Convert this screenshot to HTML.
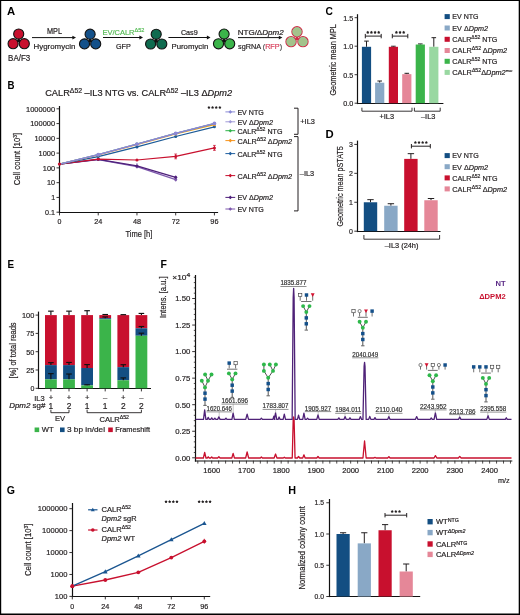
<!DOCTYPE html>
<html><head><meta charset="utf-8"><style>
html,body{margin:0;padding:0;background:#fff;}
svg{display:block;will-change:transform;}
text{font-family:"Liberation Sans", sans-serif;}
</style></head><body>
<svg width="520" height="615" viewBox="0 0 520 615" font-family='"Liberation Sans", sans-serif' fill="#231f20">
<rect x="0" y="0" width="520" height="615" fill="#fff"/>
<text x="7.00" y="14.60" font-size="11.3" font-weight="bold" fill="#000">A</text>
<polygon points="15.90,42.37 21.50,42.37 18.70,37.57" fill="#111"/>
<circle cx="18.70" cy="34.00" r="5.05" fill="#c8102e" stroke="#111" stroke-width="1.1"/>
<circle cx="13.10" cy="43.70" r="5.05" fill="#c8102e" stroke="#111" stroke-width="1.1"/>
<circle cx="24.30" cy="43.70" r="5.05" fill="#c8102e" stroke="#111" stroke-width="1.1"/>
<polygon points="87.30,42.57 92.90,42.57 90.10,37.77" fill="#111"/>
<circle cx="90.10" cy="34.20" r="5.05" fill="#14518a" stroke="#111" stroke-width="1.1"/>
<circle cx="84.50" cy="43.90" r="5.05" fill="#14518a" stroke="#111" stroke-width="1.1"/>
<circle cx="95.70" cy="43.90" r="5.05" fill="#14518a" stroke="#111" stroke-width="1.1"/>
<polygon points="153.40,42.67 159.00,42.67 156.20,37.87" fill="#111"/>
<circle cx="156.20" cy="34.30" r="5.05" fill="#0f6b4f" stroke="#111" stroke-width="1.1"/>
<circle cx="150.60" cy="44.00" r="5.05" fill="#0f6b4f" stroke="#111" stroke-width="1.1"/>
<circle cx="161.80" cy="44.00" r="5.05" fill="#0f6b4f" stroke="#111" stroke-width="1.1"/>
<polygon points="221.30,42.47 226.90,42.47 224.10,37.67" fill="#111"/>
<circle cx="224.10" cy="34.10" r="5.05" fill="#3bb44a" stroke="#111" stroke-width="1.1"/>
<circle cx="218.50" cy="43.80" r="5.05" fill="#3bb44a" stroke="#111" stroke-width="1.1"/>
<circle cx="229.70" cy="43.80" r="5.05" fill="#3bb44a" stroke="#111" stroke-width="1.1"/>
<polygon points="294.20,40.27 299.80,40.27 297.00,35.47" fill="#cf2e48"/>
<circle cx="297.00" cy="31.80" r="5.15" fill="#a4c28b" stroke="#cf2e48" stroke-width="1.1"/>
<circle cx="297.00" cy="31.80" r="4.15" fill="none" stroke="#8fd19a" stroke-width="0.7"/>
<circle cx="291.05" cy="41.65" r="5.15" fill="#a4c28b" stroke="#cf2e48" stroke-width="1.1"/>
<circle cx="291.05" cy="41.65" r="4.15" fill="none" stroke="#8fd19a" stroke-width="0.7"/>
<circle cx="302.95" cy="41.65" r="5.15" fill="#a4c28b" stroke="#cf2e48" stroke-width="1.1"/>
<circle cx="302.95" cy="41.65" r="4.15" fill="none" stroke="#8fd19a" stroke-width="0.7"/>
<line x1="32.00" y1="37.60" x2="73.00" y2="37.60" stroke="#111" stroke-width="1.0"/>
<polygon points="72.40,35.70 76.00,37.60 72.40,39.50" fill="#111"/>
<line x1="103.00" y1="37.50" x2="140.00" y2="37.50" stroke="#111" stroke-width="1.0"/>
<polygon points="139.40,35.60 143.00,37.50 139.40,39.40" fill="#111"/>
<line x1="168.40" y1="37.50" x2="207.50" y2="37.50" stroke="#111" stroke-width="1.0"/>
<polygon points="206.90,35.60 210.50,37.50 206.90,39.40" fill="#111"/>
<line x1="238.00" y1="37.60" x2="279.40" y2="37.60" stroke="#111" stroke-width="1.0"/>
<polygon points="278.80,35.70 282.40,37.60 278.80,39.50" fill="#111"/>
<text x="8.10" y="61.00" font-size="8.4" stroke="#231f20" stroke-width="0.2" textLength="22.10" lengthAdjust="spacingAndGlyphs">BA/F3</text>
<text x="47.00" y="34.40" font-size="8.2" stroke="#231f20" stroke-width="0.2" textLength="15.00" lengthAdjust="spacingAndGlyphs">MPL</text>
<text x="33.50" y="48.80" font-size="8.0" stroke="#231f20" stroke-width="0.2" textLength="41.80" lengthAdjust="spacingAndGlyphs">Hygromycin</text>
<text x="102.40" y="34.50" font-size="7.8" fill="#55bb55" stroke="#55bb55" stroke-width="0.2" textLength="42.00" lengthAdjust="spacingAndGlyphs">EV/CALR<tspan font-size="5.8" baseline-shift="3.0">&#916;52</tspan></text>
<text x="115.90" y="48.90" font-size="8.0" stroke="#231f20" stroke-width="0.2" textLength="14.80" lengthAdjust="spacingAndGlyphs">GFP</text>
<text x="180.90" y="34.50" font-size="8.0" stroke="#231f20" stroke-width="0.2" textLength="16.80" lengthAdjust="spacingAndGlyphs">Cas9</text>
<text x="171.50" y="48.90" font-size="8.0" stroke="#231f20" stroke-width="0.2" textLength="36.80" lengthAdjust="spacingAndGlyphs">Puromycin</text>
<text x="237.70" y="34.50" font-size="7.8" stroke="#231f20" stroke-width="0.2" textLength="46.00" lengthAdjust="spacingAndGlyphs">NTG/&#916;<tspan font-style="italic">Dpm2</tspan></text>
<text x="238.10" y="48.90" font-size="7.8" stroke="#231f20" stroke-width="0.2" textLength="44.00" lengthAdjust="spacingAndGlyphs">sgRNA <tspan fill="#4d4d4f" stroke="#4d4d4f">(</tspan><tspan fill="#d8405c" stroke="#d8405c">RFP</tspan><tspan fill="#4d4d4f" stroke="#4d4d4f">)</tspan></text>
<text x="7.40" y="89.30" font-size="11.3" font-weight="bold" fill="#000" textLength="7.00" lengthAdjust="spacingAndGlyphs">B</text>
<text x="45.20" y="95.90" font-size="8.6" stroke="#231f20" stroke-width="0.2" textLength="187.00" lengthAdjust="spacingAndGlyphs">CALR<tspan font-size="6.4" baseline-shift="3.3">&#916;52</tspan> &#8211;IL3 NTG vs. CALR<tspan font-size="6.4" baseline-shift="3.3">&#916;52</tspan> &#8211;IL3 &#916;<tspan font-style="italic">Dpm2</tspan></text>
<line x1="59.50" y1="106.00" x2="59.50" y2="213.10" stroke="#111" stroke-width="1.2"/>
<line x1="58.90" y1="212.50" x2="218.10" y2="212.50" stroke="#111" stroke-width="1.2"/>
<line x1="56.50" y1="108.81" x2="59.50" y2="108.81" stroke="#231f20" stroke-width="0.9"/>
<text x="55.10" y="111.61" font-size="8.0" text-anchor="end" stroke="#231f20" stroke-width="0.2" textLength="29.10" lengthAdjust="spacingAndGlyphs">1000000</text>
<line x1="56.50" y1="123.58" x2="59.50" y2="123.58" stroke="#231f20" stroke-width="0.9"/>
<text x="55.10" y="126.38" font-size="8.0" text-anchor="end" stroke="#231f20" stroke-width="0.2" textLength="24.90" lengthAdjust="spacingAndGlyphs">100000</text>
<line x1="56.50" y1="138.35" x2="59.50" y2="138.35" stroke="#231f20" stroke-width="0.9"/>
<text x="55.10" y="141.15" font-size="8.0" text-anchor="end" stroke="#231f20" stroke-width="0.2" textLength="20.70" lengthAdjust="spacingAndGlyphs">10000</text>
<line x1="56.50" y1="153.12" x2="59.50" y2="153.12" stroke="#231f20" stroke-width="0.9"/>
<text x="55.10" y="155.92" font-size="8.0" text-anchor="end" stroke="#231f20" stroke-width="0.2" textLength="16.50" lengthAdjust="spacingAndGlyphs">1000</text>
<line x1="56.50" y1="167.89" x2="59.50" y2="167.89" stroke="#231f20" stroke-width="0.9"/>
<text x="55.10" y="170.69" font-size="8.0" text-anchor="end" stroke="#231f20" stroke-width="0.2" textLength="12.30" lengthAdjust="spacingAndGlyphs">100</text>
<line x1="56.50" y1="182.66" x2="59.50" y2="182.66" stroke="#231f20" stroke-width="0.9"/>
<text x="55.10" y="185.46" font-size="8.0" text-anchor="end" stroke="#231f20" stroke-width="0.2" textLength="8.10" lengthAdjust="spacingAndGlyphs">10</text>
<line x1="56.50" y1="197.43" x2="59.50" y2="197.43" stroke="#231f20" stroke-width="0.9"/>
<text x="55.10" y="200.23" font-size="8.0" text-anchor="end" stroke="#231f20" stroke-width="0.2" textLength="3.90" lengthAdjust="spacingAndGlyphs">1</text>
<line x1="56.50" y1="212.20" x2="59.50" y2="212.20" stroke="#231f20" stroke-width="0.9"/>
<text x="55.10" y="215.00" font-size="8.0" text-anchor="end" stroke="#231f20" stroke-width="0.2" textLength="10.00" lengthAdjust="spacingAndGlyphs">0.1</text>
<line x1="59.50" y1="212.40" x2="59.50" y2="215.40" stroke="#231f20" stroke-width="0.9"/>
<text x="59.50" y="224.00" font-size="8.0" text-anchor="middle" stroke="#231f20" stroke-width="0.2" textLength="3.90" lengthAdjust="spacingAndGlyphs">0</text>
<line x1="98.23" y1="212.40" x2="98.23" y2="215.40" stroke="#231f20" stroke-width="0.9"/>
<text x="98.23" y="224.00" font-size="8.0" text-anchor="middle" stroke="#231f20" stroke-width="0.2" textLength="8.10" lengthAdjust="spacingAndGlyphs">24</text>
<line x1="136.96" y1="212.40" x2="136.96" y2="215.40" stroke="#231f20" stroke-width="0.9"/>
<text x="136.96" y="224.00" font-size="8.0" text-anchor="middle" stroke="#231f20" stroke-width="0.2" textLength="8.10" lengthAdjust="spacingAndGlyphs">48</text>
<line x1="175.69" y1="212.40" x2="175.69" y2="215.40" stroke="#231f20" stroke-width="0.9"/>
<text x="175.69" y="224.00" font-size="8.0" text-anchor="middle" stroke="#231f20" stroke-width="0.2" textLength="8.10" lengthAdjust="spacingAndGlyphs">72</text>
<line x1="214.42" y1="212.40" x2="214.42" y2="215.40" stroke="#231f20" stroke-width="0.9"/>
<text x="214.42" y="224.00" font-size="8.0" text-anchor="middle" stroke="#231f20" stroke-width="0.2" textLength="8.10" lengthAdjust="spacingAndGlyphs">96</text>
<text x="125.40" y="237.30" font-size="9.6" stroke="#231f20" stroke-width="0.2" textLength="27.00" lengthAdjust="spacingAndGlyphs">Time [h]</text>
<text x="19.70" y="185.30" font-size="9.6" stroke="#231f20" stroke-width="0.2" textLength="52.50" lengthAdjust="spacingAndGlyphs" transform="rotate(-90 19.70 185.30)">Cell count [10<tspan font-size="6.2" baseline-shift="3.4">3</tspan>]</text>
<line x1="175.69" y1="154.00" x2="175.69" y2="158.80" stroke="#c8102e" stroke-width="0.9"/>
<line x1="174.29" y1="154.00" x2="177.09" y2="154.00" stroke="#c8102e" stroke-width="0.7"/>
<line x1="174.29" y1="158.80" x2="177.09" y2="158.80" stroke="#c8102e" stroke-width="0.7"/>
<line x1="214.42" y1="145.40" x2="214.42" y2="150.40" stroke="#c8102e" stroke-width="0.9"/>
<line x1="213.02" y1="145.40" x2="215.82" y2="145.40" stroke="#c8102e" stroke-width="0.7"/>
<line x1="213.02" y1="150.40" x2="215.82" y2="150.40" stroke="#c8102e" stroke-width="0.7"/>
<line x1="136.96" y1="163.20" x2="136.96" y2="168.50" stroke="#7b5aa6" stroke-width="0.9"/>
<line x1="175.69" y1="175.50" x2="175.69" y2="181.50" stroke="#7b5aa6" stroke-width="0.9"/>
<polyline points="59.50,164.10 98.23,159.60 136.96,166.60 175.69,179.60" fill="none" stroke="#7d58ad" stroke-width="1.2" stroke-linejoin="round"/>
<circle cx="98.23" cy="159.60" r="1.50" fill="#7d58ad" stroke="none" stroke-width="0"/>
<circle cx="136.96" cy="166.60" r="1.50" fill="#7d58ad" stroke="none" stroke-width="0"/>
<circle cx="175.69" cy="179.60" r="1.50" fill="#7d58ad" stroke="none" stroke-width="0"/>
<polyline points="59.50,164.10 98.23,159.30 136.96,165.90 175.69,177.30" fill="none" stroke="#4e1f7a" stroke-width="1.3" stroke-linejoin="round"/>
<circle cx="98.23" cy="159.30" r="1.50" fill="#4e1f7a" stroke="none" stroke-width="0"/>
<circle cx="136.96" cy="165.90" r="1.50" fill="#4e1f7a" stroke="none" stroke-width="0"/>
<circle cx="175.69" cy="177.30" r="1.50" fill="#4e1f7a" stroke="none" stroke-width="0"/>
<polyline points="59.50,164.10 98.23,159.10 136.96,160.00 175.69,156.40 214.42,147.90" fill="none" stroke="#c8102e" stroke-width="1.2" stroke-linejoin="round"/>
<circle cx="98.23" cy="159.10" r="1.50" fill="#c8102e" stroke="none" stroke-width="0"/>
<circle cx="136.96" cy="160.00" r="1.50" fill="#c8102e" stroke="none" stroke-width="0"/>
<circle cx="175.69" cy="156.40" r="1.50" fill="#c8102e" stroke="none" stroke-width="0"/>
<circle cx="214.42" cy="147.90" r="1.50" fill="#c8102e" stroke="none" stroke-width="0"/>
<polyline points="59.50,164.10 98.23,156.60 136.96,146.90 175.69,136.50 214.42,126.80" fill="none" stroke="#1c5b97" stroke-width="1.2" stroke-linejoin="round"/>
<circle cx="98.23" cy="156.60" r="1.50" fill="#1c5b97" stroke="none" stroke-width="0"/>
<circle cx="136.96" cy="146.90" r="1.50" fill="#1c5b97" stroke="none" stroke-width="0"/>
<circle cx="175.69" cy="136.50" r="1.50" fill="#1c5b97" stroke="none" stroke-width="0"/>
<circle cx="214.42" cy="126.80" r="1.50" fill="#1c5b97" stroke="none" stroke-width="0"/>
<polyline points="59.50,164.10 98.23,155.00 136.96,144.60 175.69,134.00 214.42,124.70" fill="none" stroke="#f7a11a" stroke-width="1.2" stroke-linejoin="round"/>
<circle cx="98.23" cy="155.00" r="1.50" fill="#f7a11a" stroke="none" stroke-width="0"/>
<circle cx="136.96" cy="144.60" r="1.50" fill="#f7a11a" stroke="none" stroke-width="0"/>
<circle cx="175.69" cy="134.00" r="1.50" fill="#f7a11a" stroke="none" stroke-width="0"/>
<circle cx="214.42" cy="124.70" r="1.50" fill="#f7a11a" stroke="none" stroke-width="0"/>
<polyline points="59.50,164.10 98.23,154.50 136.96,144.00 175.69,133.40 214.42,123.60" fill="none" stroke="#3bb44a" stroke-width="1.2" stroke-linejoin="round"/>
<circle cx="98.23" cy="154.50" r="1.50" fill="#3bb44a" stroke="none" stroke-width="0"/>
<circle cx="136.96" cy="144.00" r="1.50" fill="#3bb44a" stroke="none" stroke-width="0"/>
<circle cx="175.69" cy="133.40" r="1.50" fill="#3bb44a" stroke="none" stroke-width="0"/>
<circle cx="214.42" cy="123.60" r="1.50" fill="#3bb44a" stroke="none" stroke-width="0"/>
<polyline points="59.50,164.10 98.23,154.70 136.96,144.20 175.69,133.40 214.42,123.50" fill="none" stroke="#9a90d8" stroke-width="1.2" stroke-linejoin="round"/>
<circle cx="98.23" cy="154.70" r="1.50" fill="#9a90d8" stroke="none" stroke-width="0"/>
<circle cx="136.96" cy="144.20" r="1.50" fill="#9a90d8" stroke="none" stroke-width="0"/>
<circle cx="175.69" cy="133.40" r="1.50" fill="#9a90d8" stroke="none" stroke-width="0"/>
<circle cx="214.42" cy="123.50" r="1.50" fill="#9a90d8" stroke="none" stroke-width="0"/>
<polyline points="59.50,164.10 98.23,154.60 136.96,144.10 175.69,133.30 214.42,123.40" fill="none" stroke="#8c87d4" stroke-width="1.2" stroke-linejoin="round"/>
<circle cx="98.23" cy="154.60" r="1.90" fill="#8c87d4" stroke="none" stroke-width="0"/>
<circle cx="136.96" cy="144.10" r="1.90" fill="#8c87d4" stroke="none" stroke-width="0"/>
<circle cx="175.69" cy="133.30" r="1.90" fill="#8c87d4" stroke="none" stroke-width="0"/>
<circle cx="214.42" cy="123.40" r="1.90" fill="#8c87d4" stroke="none" stroke-width="0"/>
<circle cx="59.50" cy="164.10" r="1.70" fill="#c8102e" stroke="none" stroke-width="0"/>
<path d="M208.93,105.88 L209.50,106.71 L210.47,107.00 L209.85,107.80 L209.88,108.81 L208.93,108.47 L207.97,108.81 L208.00,107.80 L207.38,107.00 L208.35,106.71Z" fill="#231f20"/>
<path d="M212.58,105.88 L213.15,106.71 L214.12,107.00 L213.50,107.80 L213.53,108.81 L212.58,108.47 L211.62,108.81 L211.65,107.80 L211.03,107.00 L212.00,106.71Z" fill="#231f20"/>
<path d="M216.23,105.88 L216.80,106.71 L217.77,107.00 L217.15,107.80 L217.18,108.81 L216.23,108.47 L215.27,108.81 L215.30,107.80 L214.68,107.00 L215.65,106.71Z" fill="#231f20"/>
<path d="M219.88,105.88 L220.45,106.71 L221.42,107.00 L220.80,107.80 L220.83,108.81 L219.88,108.47 L218.92,108.81 L218.95,107.80 L218.33,107.00 L219.30,106.71Z" fill="#231f20"/>
<line x1="225.40" y1="111.90" x2="235.20" y2="111.90" stroke="#8a8ad6" stroke-width="1.0"/>
<polygon points="230.3,110.10 232.1,111.90 230.3,113.70 228.5,111.90" fill="#8a8ad6"/>
<text x="237.40" y="114.80" font-size="7.4" stroke="#231f20" stroke-width="0.2" textLength="26.30" lengthAdjust="spacingAndGlyphs">EV NTG</text>
<line x1="225.40" y1="121.80" x2="235.20" y2="121.80" stroke="#a09ad8" stroke-width="1.0"/>
<polygon points="230.3,120.00 232.1,121.80 230.3,123.60 228.5,121.80" fill="#a09ad8"/>
<text x="237.40" y="124.70" font-size="7.4" stroke="#231f20" stroke-width="0.2" textLength="35.50" lengthAdjust="spacingAndGlyphs">EV &#916;<tspan font-style="italic">Dpm2</tspan></text>
<line x1="225.40" y1="130.70" x2="235.20" y2="130.70" stroke="#2fb34a" stroke-width="1.0"/>
<polygon points="230.3,128.90 232.1,130.70 230.3,132.50 228.5,130.70" fill="#2fb34a"/>
<text x="237.40" y="133.60" font-size="7.4" stroke="#231f20" stroke-width="0.2" textLength="45.00" lengthAdjust="spacingAndGlyphs">CALR<tspan font-size="5.4" baseline-shift="3.0">&#916;52</tspan> NTG</text>
<line x1="225.40" y1="140.60" x2="235.20" y2="140.60" stroke="#f7941d" stroke-width="1.0"/>
<polygon points="230.3,138.80 232.1,140.60 230.3,142.40 228.5,140.60" fill="#f7941d"/>
<text x="237.40" y="143.50" font-size="7.4" stroke="#231f20" stroke-width="0.2" textLength="54.70" lengthAdjust="spacingAndGlyphs">CALR<tspan font-size="5.4" baseline-shift="3.0">&#916;52</tspan> &#916;<tspan font-style="italic">Dpm2</tspan></text>
<line x1="225.40" y1="153.60" x2="235.20" y2="153.60" stroke="#1f5fa0" stroke-width="1.0"/>
<polygon points="230.3,151.80 232.1,153.60 230.3,155.40 228.5,153.60" fill="#1f5fa0"/>
<text x="237.40" y="156.50" font-size="7.4" stroke="#231f20" stroke-width="0.2" textLength="45.00" lengthAdjust="spacingAndGlyphs">CALR<tspan font-size="5.4" baseline-shift="3.0">&#916;52</tspan> NTG</text>
<line x1="225.40" y1="175.60" x2="235.20" y2="175.60" stroke="#c8102e" stroke-width="1.0"/>
<polygon points="230.3,173.80 232.1,175.60 230.3,177.40 228.5,175.60" fill="#c8102e"/>
<text x="237.40" y="178.50" font-size="7.4" stroke="#231f20" stroke-width="0.2" textLength="54.70" lengthAdjust="spacingAndGlyphs">CALR<tspan font-size="5.4" baseline-shift="3.0">&#916;52</tspan> &#916;<tspan font-style="italic">Dpm2</tspan></text>
<line x1="225.40" y1="197.40" x2="235.20" y2="197.40" stroke="#4e1f7a" stroke-width="1.0"/>
<polygon points="230.3,195.60 232.1,197.40 230.3,199.20 228.5,197.40" fill="#4e1f7a"/>
<text x="237.40" y="200.30" font-size="7.4" stroke="#231f20" stroke-width="0.2" textLength="35.50" lengthAdjust="spacingAndGlyphs">EV &#916;<tspan font-style="italic">Dpm2</tspan></text>
<line x1="225.40" y1="209.00" x2="235.20" y2="209.00" stroke="#7d58ad" stroke-width="1.0"/>
<polygon points="230.3,207.20 232.1,209.00 230.3,210.80 228.5,209.00" fill="#7d58ad"/>
<text x="237.40" y="211.90" font-size="7.4" stroke="#231f20" stroke-width="0.2" textLength="26.30" lengthAdjust="spacingAndGlyphs">EV NTG</text>
<polyline points="294.00,108.20 298.00,108.20 298.00,134.30 294.00,134.30" fill="none" stroke="#231f20" stroke-width="1.0" stroke-linejoin="round"/>
<polyline points="294.00,136.60 298.00,136.60 298.00,210.90 294.00,210.90" fill="none" stroke="#231f20" stroke-width="1.0" stroke-linejoin="round"/>
<text x="300.30" y="124.20" font-size="7.4" stroke="#231f20" stroke-width="0.2">+IL3</text>
<text x="299.80" y="175.70" font-size="7.4" stroke="#231f20" stroke-width="0.2">&#8211;IL3</text>
<text x="325.60" y="14.80" font-size="11.3" font-weight="bold" fill="#000" textLength="7.40" lengthAdjust="spacingAndGlyphs">C</text>
<line x1="357.50" y1="14.20" x2="357.50" y2="104.10" stroke="#111" stroke-width="1.2"/>
<line x1="356.90" y1="103.50" x2="443.40" y2="103.50" stroke="#111" stroke-width="1.2"/>
<line x1="354.60" y1="17.70" x2="357.60" y2="17.70" stroke="#231f20" stroke-width="0.9"/>
<text x="353.20" y="20.50" font-size="8.0" text-anchor="end" stroke="#231f20" stroke-width="0.2" textLength="10.00" lengthAdjust="spacingAndGlyphs">1.5</text>
<line x1="354.60" y1="46.20" x2="357.60" y2="46.20" stroke="#231f20" stroke-width="0.9"/>
<text x="353.20" y="49.00" font-size="8.0" text-anchor="end" stroke="#231f20" stroke-width="0.2" textLength="10.00" lengthAdjust="spacingAndGlyphs">1.0</text>
<line x1="354.60" y1="74.70" x2="357.60" y2="74.70" stroke="#231f20" stroke-width="0.9"/>
<text x="353.20" y="77.50" font-size="8.0" text-anchor="end" stroke="#231f20" stroke-width="0.2" textLength="10.00" lengthAdjust="spacingAndGlyphs">0.5</text>
<line x1="354.60" y1="103.20" x2="357.60" y2="103.20" stroke="#231f20" stroke-width="0.9"/>
<text x="353.20" y="106.00" font-size="8.0" text-anchor="end" stroke="#231f20" stroke-width="0.2" textLength="10.00" lengthAdjust="spacingAndGlyphs">0.0</text>
<text x="336.40" y="95.60" font-size="9.2" stroke="#231f20" stroke-width="0.2" textLength="71.50" lengthAdjust="spacingAndGlyphs" transform="rotate(-90 336.40 95.60)">Geometric mean MPL</text>
<line x1="366.50" y1="46.80" x2="366.50" y2="41.10" stroke="#231f20" stroke-width="1.0"/>
<line x1="364.20" y1="41.10" x2="368.80" y2="41.10" stroke="#231f20" stroke-width="1.0"/>
<rect x="361.90" y="46.80" width="9.20" height="56.40" fill="#134e82"/>
<line x1="379.70" y1="82.71" x2="379.70" y2="81.00" stroke="#231f20" stroke-width="1.0"/>
<line x1="377.40" y1="81.00" x2="382.00" y2="81.00" stroke="#231f20" stroke-width="1.0"/>
<rect x="375.10" y="82.71" width="9.20" height="20.49" fill="#89a8c6"/>
<line x1="393.40" y1="46.80" x2="393.40" y2="46.23" stroke="#231f20" stroke-width="1.0"/>
<line x1="391.10" y1="46.23" x2="395.70" y2="46.23" stroke="#231f20" stroke-width="1.0"/>
<rect x="388.80" y="46.80" width="9.20" height="56.40" fill="#c8102e"/>
<line x1="406.80" y1="74.16" x2="406.80" y2="73.30" stroke="#231f20" stroke-width="1.0"/>
<line x1="404.50" y1="73.30" x2="409.10" y2="73.30" stroke="#231f20" stroke-width="1.0"/>
<rect x="402.20" y="74.16" width="9.20" height="29.04" fill="#e58798"/>
<line x1="420.30" y1="44.52" x2="420.30" y2="43.95" stroke="#231f20" stroke-width="1.0"/>
<line x1="418.00" y1="43.95" x2="422.60" y2="43.95" stroke="#231f20" stroke-width="1.0"/>
<rect x="415.70" y="44.52" width="9.20" height="58.68" fill="#3bb44a"/>
<line x1="433.80" y1="46.80" x2="433.80" y2="37.68" stroke="#231f20" stroke-width="1.0"/>
<line x1="431.50" y1="37.68" x2="436.10" y2="37.68" stroke="#231f20" stroke-width="1.0"/>
<rect x="429.20" y="46.80" width="9.20" height="56.40" fill="#99d8a1"/>
<line x1="365.30" y1="36.10" x2="381.20" y2="36.10" stroke="#231f20" stroke-width="1.0"/>
<line x1="365.30" y1="33.90" x2="365.30" y2="38.30" stroke="#231f20" stroke-width="1.0"/>
<line x1="381.20" y1="33.90" x2="381.20" y2="38.30" stroke="#231f20" stroke-width="1.0"/>
<path d="M367.77,30.77 L368.35,31.61 L369.32,31.90 L368.70,32.70 L368.73,33.71 L367.77,33.38 L366.82,33.71 L366.85,32.70 L366.23,31.90 L367.20,31.61Z" fill="#231f20"/>
<path d="M371.42,30.77 L372.00,31.61 L372.97,31.90 L372.35,32.70 L372.38,33.71 L371.42,33.38 L370.47,33.71 L370.50,32.70 L369.88,31.90 L370.85,31.61Z" fill="#231f20"/>
<path d="M375.07,30.77 L375.65,31.61 L376.62,31.90 L376.00,32.70 L376.03,33.71 L375.07,33.38 L374.12,33.71 L374.15,32.70 L373.53,31.90 L374.50,31.61Z" fill="#231f20"/>
<path d="M378.72,30.77 L379.30,31.61 L380.27,31.90 L379.65,32.70 L379.68,33.71 L378.72,33.38 L377.77,33.71 L377.80,32.70 L377.18,31.90 L378.15,31.61Z" fill="#231f20"/>
<line x1="392.30" y1="36.10" x2="407.80" y2="36.10" stroke="#231f20" stroke-width="1.0"/>
<line x1="392.30" y1="33.90" x2="392.30" y2="38.30" stroke="#231f20" stroke-width="1.0"/>
<line x1="407.80" y1="33.90" x2="407.80" y2="38.30" stroke="#231f20" stroke-width="1.0"/>
<path d="M396.40,30.77 L396.97,31.61 L397.95,31.90 L397.33,32.70 L397.36,33.71 L396.40,33.38 L395.44,33.71 L395.47,32.70 L394.85,31.90 L395.83,31.61Z" fill="#231f20"/>
<path d="M400.05,30.77 L400.62,31.61 L401.60,31.90 L400.98,32.70 L401.01,33.71 L400.05,33.38 L399.09,33.71 L399.12,32.70 L398.50,31.90 L399.48,31.61Z" fill="#231f20"/>
<path d="M403.70,30.77 L404.27,31.61 L405.25,31.90 L404.63,32.70 L404.66,33.71 L403.70,33.38 L402.74,33.71 L402.77,32.70 L402.15,31.90 L403.13,31.61Z" fill="#231f20"/>
<polyline points="361.90,107.70 361.90,111.20 412.00,111.20 412.00,107.70" fill="none" stroke="#231f20" stroke-width="0.9" stroke-linejoin="round"/>
<polyline points="414.40,107.70 414.40,111.20 440.20,111.20 440.20,107.70" fill="none" stroke="#231f20" stroke-width="0.9" stroke-linejoin="round"/>
<text x="386.80" y="119.20" font-size="7.4" text-anchor="middle" stroke="#231f20" stroke-width="0.2">+IL3</text>
<text x="428.20" y="119.20" font-size="7.4" text-anchor="middle" stroke="#231f20" stroke-width="0.2">&#8211;IL3</text>
<rect x="444.60" y="14.10" width="5.20" height="5.00" fill="#134e82"/>
<text x="452.30" y="19.40" font-size="7.6" stroke="#231f20" stroke-width="0.2" textLength="26.20" lengthAdjust="spacingAndGlyphs">EV NTG</text>
<rect x="444.60" y="25.50" width="5.20" height="5.00" fill="#89a8c6"/>
<text x="452.30" y="30.80" font-size="7.6" stroke="#231f20" stroke-width="0.2" textLength="35.60" lengthAdjust="spacingAndGlyphs">EV &#916;<tspan font-style="italic">Dpm2</tspan></text>
<rect x="444.60" y="36.80" width="5.20" height="5.00" fill="#c8102e"/>
<text x="452.30" y="42.10" font-size="7.6" stroke="#231f20" stroke-width="0.2" textLength="45.00" lengthAdjust="spacingAndGlyphs">CALR<tspan font-size="5.4" baseline-shift="3.0">&#916;52</tspan> NTG</text>
<rect x="444.60" y="48.00" width="5.20" height="5.00" fill="#e58798"/>
<text x="452.30" y="53.30" font-size="7.6" stroke="#231f20" stroke-width="0.2" textLength="54.80" lengthAdjust="spacingAndGlyphs">CALR<tspan font-size="5.4" baseline-shift="3.0">&#916;52</tspan> &#916;<tspan font-style="italic">Dpm2</tspan></text>
<rect x="444.60" y="58.80" width="5.20" height="5.00" fill="#3bb44a"/>
<text x="452.30" y="64.10" font-size="7.6" stroke="#231f20" stroke-width="0.2" textLength="45.00" lengthAdjust="spacingAndGlyphs">CALR<tspan font-size="5.4" baseline-shift="3.0">&#916;52</tspan> NTG</text>
<rect x="444.60" y="69.90" width="5.20" height="5.00" fill="#99d8a1"/>
<text x="452.30" y="75.20" font-size="7.6" stroke="#231f20" stroke-width="0.2" textLength="60.00" lengthAdjust="spacingAndGlyphs">CALR<tspan font-size="5.4" baseline-shift="3.0">&#916;52</tspan>&#916;<tspan font-style="italic">Dpm2</tspan><tspan font-size="4.4" font-style="italic" baseline-shift="3.0">esc</tspan></text>
<text x="325.60" y="138.30" font-size="11.3" font-weight="bold" fill="#000">D</text>
<line x1="357.50" y1="140.60" x2="357.50" y2="232.10" stroke="#111" stroke-width="1.2"/>
<line x1="356.90" y1="231.50" x2="440.50" y2="231.50" stroke="#111" stroke-width="1.2"/>
<line x1="354.30" y1="144.41" x2="357.60" y2="144.41" stroke="#231f20" stroke-width="0.9"/>
<text x="352.80" y="147.21" font-size="8.0" text-anchor="end" stroke="#231f20" stroke-width="0.2" textLength="3.90" lengthAdjust="spacingAndGlyphs">3</text>
<line x1="354.30" y1="173.34" x2="357.60" y2="173.34" stroke="#231f20" stroke-width="0.9"/>
<text x="352.80" y="176.14" font-size="8.0" text-anchor="end" stroke="#231f20" stroke-width="0.2" textLength="3.90" lengthAdjust="spacingAndGlyphs">2</text>
<line x1="354.30" y1="202.27" x2="357.60" y2="202.27" stroke="#231f20" stroke-width="0.9"/>
<text x="352.80" y="205.07" font-size="8.0" text-anchor="end" stroke="#231f20" stroke-width="0.2" textLength="3.90" lengthAdjust="spacingAndGlyphs">1</text>
<line x1="354.30" y1="231.20" x2="357.60" y2="231.20" stroke="#231f20" stroke-width="0.9"/>
<text x="352.80" y="234.00" font-size="8.0" text-anchor="end" stroke="#231f20" stroke-width="0.2" textLength="3.90" lengthAdjust="spacingAndGlyphs">0</text>
<text x="342.90" y="226.60" font-size="9.2" stroke="#231f20" stroke-width="0.2" textLength="80.40" lengthAdjust="spacingAndGlyphs" transform="rotate(-90 342.90 226.60)">Geometric mean pSTAT5</text>
<line x1="370.50" y1="202.27" x2="370.50" y2="199.67" stroke="#231f20" stroke-width="1.0"/>
<line x1="367.30" y1="199.67" x2="373.70" y2="199.67" stroke="#231f20" stroke-width="1.0"/>
<rect x="363.80" y="202.27" width="13.40" height="28.93" fill="#134e82"/>
<line x1="390.90" y1="205.74" x2="390.90" y2="203.72" stroke="#231f20" stroke-width="1.0"/>
<line x1="387.70" y1="203.72" x2="394.10" y2="203.72" stroke="#231f20" stroke-width="1.0"/>
<rect x="384.20" y="205.74" width="13.40" height="25.46" fill="#89a8c6"/>
<line x1="410.90" y1="158.88" x2="410.90" y2="153.67" stroke="#231f20" stroke-width="1.0"/>
<line x1="407.70" y1="153.67" x2="414.10" y2="153.67" stroke="#231f20" stroke-width="1.0"/>
<rect x="404.20" y="158.88" width="13.40" height="72.32" fill="#c8102e"/>
<line x1="431.00" y1="200.24" x2="431.00" y2="198.51" stroke="#231f20" stroke-width="1.0"/>
<line x1="427.80" y1="198.51" x2="434.20" y2="198.51" stroke="#231f20" stroke-width="1.0"/>
<rect x="424.30" y="200.24" width="13.40" height="30.96" fill="#e58798"/>
<line x1="411.40" y1="146.20" x2="430.30" y2="146.20" stroke="#231f20" stroke-width="1.0"/>
<line x1="411.40" y1="144.00" x2="411.40" y2="148.40" stroke="#231f20" stroke-width="1.0"/>
<line x1="430.30" y1="144.00" x2="430.30" y2="148.40" stroke="#231f20" stroke-width="1.0"/>
<path d="M415.38,140.88 L415.95,141.71 L416.92,142.00 L416.30,142.80 L416.33,143.81 L415.38,143.47 L414.42,143.81 L414.45,142.80 L413.83,142.00 L414.80,141.71Z" fill="#231f20"/>
<path d="M419.02,140.88 L419.60,141.71 L420.57,142.00 L419.95,142.80 L419.98,143.81 L419.02,143.47 L418.07,143.81 L418.10,142.80 L417.48,142.00 L418.45,141.71Z" fill="#231f20"/>
<path d="M422.68,140.88 L423.25,141.71 L424.22,142.00 L423.60,142.80 L423.63,143.81 L422.68,143.47 L421.72,143.81 L421.75,142.80 L421.13,142.00 L422.10,141.71Z" fill="#231f20"/>
<path d="M426.32,140.88 L426.90,141.71 L427.87,142.00 L427.25,142.80 L427.28,143.81 L426.32,143.47 L425.37,143.81 L425.40,142.80 L424.78,142.00 L425.75,141.71Z" fill="#231f20"/>
<polyline points="363.90,235.00 363.90,239.20 439.60,239.20 439.60,235.00" fill="none" stroke="#231f20" stroke-width="0.9" stroke-linejoin="round"/>
<text x="401.60" y="247.60" font-size="7.4" text-anchor="middle" stroke="#231f20" stroke-width="0.2">&#8211;IL3 (24h)</text>
<rect x="444.60" y="153.10" width="5.20" height="5.00" fill="#134e82"/>
<text x="452.30" y="158.40" font-size="7.6" stroke="#231f20" stroke-width="0.2" textLength="26.40" lengthAdjust="spacingAndGlyphs">EV NTG</text>
<rect x="444.60" y="164.20" width="5.20" height="5.00" fill="#89a8c6"/>
<text x="452.30" y="169.50" font-size="7.6" stroke="#231f20" stroke-width="0.2" textLength="35.80" lengthAdjust="spacingAndGlyphs">EV &#916;<tspan font-style="italic">Dpm2</tspan></text>
<rect x="444.60" y="175.40" width="5.20" height="5.00" fill="#c8102e"/>
<text x="452.30" y="180.70" font-size="7.6" stroke="#231f20" stroke-width="0.2" textLength="45.20" lengthAdjust="spacingAndGlyphs">CALR<tspan font-size="5.4" baseline-shift="3.0">&#916;52</tspan> NTG</text>
<rect x="444.60" y="186.40" width="5.20" height="5.00" fill="#e58798"/>
<text x="452.30" y="191.70" font-size="7.6" stroke="#231f20" stroke-width="0.2" textLength="54.80" lengthAdjust="spacingAndGlyphs">CALR<tspan font-size="5.4" baseline-shift="3.0">&#916;52</tspan> &#916;<tspan font-style="italic">Dpm2</tspan></text>
<text x="7.40" y="268.30" font-size="11.3" font-weight="bold" fill="#000" textLength="6.60" lengthAdjust="spacingAndGlyphs">E</text>
<line x1="38.50" y1="311.60" x2="38.50" y2="389.10" stroke="#111" stroke-width="1.2"/>
<line x1="37.90" y1="388.50" x2="151.00" y2="388.50" stroke="#111" stroke-width="1.2"/>
<line x1="35.60" y1="315.10" x2="38.50" y2="315.10" stroke="#231f20" stroke-width="0.9"/>
<text x="34.30" y="317.90" font-size="8.0" text-anchor="end" stroke="#231f20" stroke-width="0.2" textLength="12.30" lengthAdjust="spacingAndGlyphs">100</text>
<line x1="35.60" y1="333.40" x2="38.50" y2="333.40" stroke="#231f20" stroke-width="0.9"/>
<text x="34.30" y="336.20" font-size="8.0" text-anchor="end" stroke="#231f20" stroke-width="0.2" textLength="8.10" lengthAdjust="spacingAndGlyphs">75</text>
<line x1="35.60" y1="351.70" x2="38.50" y2="351.70" stroke="#231f20" stroke-width="0.9"/>
<text x="34.30" y="354.50" font-size="8.0" text-anchor="end" stroke="#231f20" stroke-width="0.2" textLength="8.10" lengthAdjust="spacingAndGlyphs">50</text>
<line x1="35.60" y1="370.00" x2="38.50" y2="370.00" stroke="#231f20" stroke-width="0.9"/>
<text x="34.30" y="372.80" font-size="8.0" text-anchor="end" stroke="#231f20" stroke-width="0.2" textLength="8.10" lengthAdjust="spacingAndGlyphs">25</text>
<line x1="35.60" y1="388.30" x2="38.50" y2="388.30" stroke="#231f20" stroke-width="0.9"/>
<text x="34.30" y="391.10" font-size="8.0" text-anchor="end" stroke="#231f20" stroke-width="0.2" textLength="3.90" lengthAdjust="spacingAndGlyphs">0</text>
<text x="16.20" y="378.40" font-size="8.8" stroke="#231f20" stroke-width="0.2" textLength="56.00" lengthAdjust="spacingAndGlyphs" transform="rotate(-90 16.20 378.40)">[%] of total reads</text>
<rect x="45.00" y="315.10" width="11.80" height="50.00" fill="#c8102e"/>
<rect x="45.00" y="365.10" width="11.80" height="14.27" fill="#134e82"/>
<rect x="45.00" y="379.37" width="11.80" height="8.93" fill="#3bb44a"/>
<line x1="50.90" y1="379.37" x2="50.90" y2="373.66" stroke="#111" stroke-width="1.15"/>
<line x1="48.10" y1="373.66" x2="53.70" y2="373.66" stroke="#111" stroke-width="1.15"/>
<line x1="50.90" y1="365.10" x2="50.90" y2="362.68" stroke="#111" stroke-width="1.15"/>
<line x1="48.10" y1="362.68" x2="53.70" y2="362.68" stroke="#111" stroke-width="1.15"/>
<line x1="50.90" y1="315.10" x2="50.90" y2="311.15" stroke="#111" stroke-width="1.15"/>
<line x1="48.10" y1="311.15" x2="53.70" y2="311.15" stroke="#111" stroke-width="1.15"/>
<line x1="50.90" y1="388.30" x2="50.90" y2="391.40" stroke="#231f20" stroke-width="0.9"/>
<rect x="63.10" y="315.10" width="11.80" height="50.00" fill="#c8102e"/>
<rect x="63.10" y="365.10" width="11.80" height="14.27" fill="#134e82"/>
<rect x="63.10" y="379.37" width="11.80" height="8.93" fill="#3bb44a"/>
<line x1="69.00" y1="379.37" x2="69.00" y2="374.03" stroke="#111" stroke-width="1.15"/>
<line x1="66.20" y1="374.03" x2="71.80" y2="374.03" stroke="#111" stroke-width="1.15"/>
<line x1="69.00" y1="365.10" x2="69.00" y2="362.46" stroke="#111" stroke-width="1.15"/>
<line x1="66.20" y1="362.46" x2="71.80" y2="362.46" stroke="#111" stroke-width="1.15"/>
<line x1="69.00" y1="315.10" x2="69.00" y2="311.15" stroke="#111" stroke-width="1.15"/>
<line x1="66.20" y1="311.15" x2="71.80" y2="311.15" stroke="#111" stroke-width="1.15"/>
<line x1="69.00" y1="388.30" x2="69.00" y2="391.40" stroke="#231f20" stroke-width="0.9"/>
<rect x="81.20" y="315.10" width="11.80" height="52.92" fill="#c8102e"/>
<rect x="81.20" y="368.02" width="11.80" height="17.35" fill="#134e82"/>
<rect x="81.20" y="385.37" width="11.80" height="2.93" fill="#3bb44a"/>
<line x1="87.10" y1="385.37" x2="87.10" y2="384.79" stroke="#111" stroke-width="1.15"/>
<line x1="84.30" y1="384.79" x2="89.90" y2="384.79" stroke="#111" stroke-width="1.15"/>
<line x1="87.10" y1="368.02" x2="87.10" y2="364.58" stroke="#111" stroke-width="1.15"/>
<line x1="84.30" y1="364.58" x2="89.90" y2="364.58" stroke="#111" stroke-width="1.15"/>
<line x1="87.10" y1="315.10" x2="87.10" y2="310.71" stroke="#111" stroke-width="1.15"/>
<line x1="84.30" y1="310.71" x2="89.90" y2="310.71" stroke="#111" stroke-width="1.15"/>
<line x1="87.10" y1="388.30" x2="87.10" y2="391.40" stroke="#231f20" stroke-width="0.9"/>
<rect x="99.30" y="315.10" width="11.80" height="3.07" fill="#c8102e"/>
<rect x="99.30" y="318.17" width="11.80" height="1.10" fill="#134e82"/>
<rect x="99.30" y="319.27" width="11.80" height="69.03" fill="#3bb44a"/>
<line x1="105.20" y1="318.17" x2="105.20" y2="316.93" stroke="#111" stroke-width="1.15"/>
<line x1="102.40" y1="316.93" x2="108.00" y2="316.93" stroke="#111" stroke-width="1.15"/>
<line x1="105.20" y1="315.10" x2="105.20" y2="314.51" stroke="#111" stroke-width="1.15"/>
<line x1="102.40" y1="314.51" x2="108.00" y2="314.51" stroke="#111" stroke-width="1.15"/>
<line x1="105.20" y1="388.30" x2="105.20" y2="391.40" stroke="#231f20" stroke-width="0.9"/>
<rect x="117.40" y="315.10" width="11.80" height="52.05" fill="#c8102e"/>
<rect x="117.40" y="367.15" width="11.80" height="13.10" fill="#134e82"/>
<rect x="117.40" y="380.25" width="11.80" height="8.05" fill="#3bb44a"/>
<line x1="123.30" y1="380.25" x2="123.30" y2="377.91" stroke="#111" stroke-width="1.15"/>
<line x1="120.50" y1="377.91" x2="126.10" y2="377.91" stroke="#111" stroke-width="1.15"/>
<line x1="123.30" y1="367.15" x2="123.30" y2="364.73" stroke="#111" stroke-width="1.15"/>
<line x1="120.50" y1="364.73" x2="126.10" y2="364.73" stroke="#111" stroke-width="1.15"/>
<line x1="123.30" y1="315.10" x2="123.30" y2="314.66" stroke="#111" stroke-width="1.15"/>
<line x1="120.50" y1="314.66" x2="126.10" y2="314.66" stroke="#111" stroke-width="1.15"/>
<line x1="123.30" y1="388.30" x2="123.30" y2="391.40" stroke="#231f20" stroke-width="0.9"/>
<rect x="135.50" y="315.10" width="11.80" height="13.18" fill="#c8102e"/>
<rect x="135.50" y="328.28" width="11.80" height="7.47" fill="#134e82"/>
<rect x="135.50" y="335.74" width="11.80" height="52.56" fill="#3bb44a"/>
<line x1="141.40" y1="335.74" x2="141.40" y2="333.18" stroke="#111" stroke-width="1.15"/>
<line x1="138.60" y1="333.18" x2="144.20" y2="333.18" stroke="#111" stroke-width="1.15"/>
<line x1="141.40" y1="328.28" x2="141.40" y2="326.52" stroke="#111" stroke-width="1.15"/>
<line x1="138.60" y1="326.52" x2="144.20" y2="326.52" stroke="#111" stroke-width="1.15"/>
<line x1="141.40" y1="315.10" x2="141.40" y2="313.42" stroke="#111" stroke-width="1.15"/>
<line x1="138.60" y1="313.42" x2="144.20" y2="313.42" stroke="#111" stroke-width="1.15"/>
<line x1="141.40" y1="388.30" x2="141.40" y2="391.40" stroke="#231f20" stroke-width="0.9"/>
<text x="44.60" y="400.80" font-size="7.4" text-anchor="end" stroke="#231f20" stroke-width="0.2" textLength="10.40" lengthAdjust="spacingAndGlyphs">IL3</text>
<text x="50.90" y="400.40" font-size="7.6" text-anchor="middle" stroke="#231f20" stroke-width="0.2">+</text>
<text x="69.00" y="400.40" font-size="7.6" text-anchor="middle" stroke="#231f20" stroke-width="0.2">+</text>
<text x="87.10" y="400.40" font-size="7.6" text-anchor="middle" stroke="#231f20" stroke-width="0.2">+</text>
<text x="105.20" y="400.40" font-size="7.6" text-anchor="middle" stroke="#231f20" stroke-width="0.2">&#8211;</text>
<text x="123.30" y="400.40" font-size="7.6" text-anchor="middle" stroke="#231f20" stroke-width="0.2">+</text>
<text x="141.40" y="400.40" font-size="7.6" text-anchor="middle" stroke="#231f20" stroke-width="0.2">&#8211;</text>
<text x="45.40" y="408.20" font-size="7.6" text-anchor="end" stroke="#231f20" stroke-width="0.2" textLength="36.20" lengthAdjust="spacingAndGlyphs"><tspan font-style="italic">Dpm2</tspan> sg#</text>
<text x="50.90" y="409.00" font-size="8.4" text-anchor="middle" stroke="#231f20" stroke-width="0.2">1</text>
<text x="69.00" y="409.00" font-size="8.4" text-anchor="middle" stroke="#231f20" stroke-width="0.2">2</text>
<text x="87.10" y="409.00" font-size="8.4" text-anchor="middle" stroke="#231f20" stroke-width="0.2">1</text>
<text x="105.20" y="409.00" font-size="8.4" text-anchor="middle" stroke="#231f20" stroke-width="0.2">1</text>
<text x="123.30" y="409.00" font-size="8.4" text-anchor="middle" stroke="#231f20" stroke-width="0.2">2</text>
<text x="141.40" y="409.00" font-size="8.4" text-anchor="middle" stroke="#231f20" stroke-width="0.2">2</text>
<polyline points="50.90,409.70 50.90,412.70 69.00,412.70 69.00,409.70" fill="none" stroke="#231f20" stroke-width="0.9" stroke-linejoin="round"/>
<polyline points="87.10,409.70 87.10,412.70 141.40,412.70 141.40,409.70" fill="none" stroke="#231f20" stroke-width="0.9" stroke-linejoin="round"/>
<text x="59.95" y="421.20" font-size="7.6" text-anchor="middle" stroke="#231f20" stroke-width="0.2">EV</text>
<text x="114.20" y="421.60" font-size="7.6" text-anchor="middle" stroke="#231f20" stroke-width="0.2">CALR<tspan font-size="5.2" baseline-shift="3.2">&#916;52</tspan></text>
<rect x="34.60" y="427.50" width="4.60" height="4.60" fill="#3bb44a"/>
<text x="41.80" y="432.40" font-size="7.6" stroke="#231f20" stroke-width="0.2">WT</text>
<rect x="60.00" y="427.50" width="4.60" height="4.60" fill="#134e82"/>
<text x="67.00" y="432.40" font-size="7.6" stroke="#231f20" stroke-width="0.2" textLength="38.00" lengthAdjust="spacingAndGlyphs">3 bp in/del</text>
<rect x="108.20" y="427.50" width="4.60" height="4.60" fill="#c8102e"/>
<text x="115.30" y="432.40" font-size="7.6" stroke="#231f20" stroke-width="0.2" textLength="34.80" lengthAdjust="spacingAndGlyphs">Frameshift</text>
<text x="160.40" y="268.30" font-size="11.3" font-weight="bold" fill="#000" textLength="6.40" lengthAdjust="spacingAndGlyphs">F</text>
<line x1="195.50" y1="275.00" x2="195.50" y2="461.60" stroke="#111" stroke-width="1.2"/>
<line x1="194.90" y1="461.00" x2="512.30" y2="461.00" stroke="#111" stroke-width="1.2"/>
<line x1="192.20" y1="457.80" x2="195.60" y2="457.80" stroke="#231f20" stroke-width="0.9"/>
<text x="190.40" y="460.60" font-size="8.0" text-anchor="end" stroke="#231f20" stroke-width="0.2" textLength="15.10" lengthAdjust="spacingAndGlyphs">0.00</text>
<line x1="193.80" y1="452.49" x2="195.60" y2="452.49" stroke="#231f20" stroke-width="0.8"/>
<line x1="193.80" y1="447.18" x2="195.60" y2="447.18" stroke="#231f20" stroke-width="0.8"/>
<line x1="193.80" y1="441.87" x2="195.60" y2="441.87" stroke="#231f20" stroke-width="0.8"/>
<line x1="193.80" y1="436.56" x2="195.60" y2="436.56" stroke="#231f20" stroke-width="0.8"/>
<line x1="192.20" y1="431.25" x2="195.60" y2="431.25" stroke="#231f20" stroke-width="0.9"/>
<text x="190.40" y="434.05" font-size="8.0" text-anchor="end" stroke="#231f20" stroke-width="0.2" textLength="15.10" lengthAdjust="spacingAndGlyphs">0.25</text>
<line x1="193.80" y1="425.94" x2="195.60" y2="425.94" stroke="#231f20" stroke-width="0.8"/>
<line x1="193.80" y1="420.63" x2="195.60" y2="420.63" stroke="#231f20" stroke-width="0.8"/>
<line x1="193.80" y1="415.32" x2="195.60" y2="415.32" stroke="#231f20" stroke-width="0.8"/>
<line x1="193.80" y1="410.01" x2="195.60" y2="410.01" stroke="#231f20" stroke-width="0.8"/>
<line x1="192.20" y1="404.70" x2="195.60" y2="404.70" stroke="#231f20" stroke-width="0.9"/>
<text x="190.40" y="407.50" font-size="8.0" text-anchor="end" stroke="#231f20" stroke-width="0.2" textLength="15.10" lengthAdjust="spacingAndGlyphs">0.50</text>
<line x1="193.80" y1="399.39" x2="195.60" y2="399.39" stroke="#231f20" stroke-width="0.8"/>
<line x1="193.80" y1="394.08" x2="195.60" y2="394.08" stroke="#231f20" stroke-width="0.8"/>
<line x1="193.80" y1="388.77" x2="195.60" y2="388.77" stroke="#231f20" stroke-width="0.8"/>
<line x1="193.80" y1="383.46" x2="195.60" y2="383.46" stroke="#231f20" stroke-width="0.8"/>
<line x1="192.20" y1="378.15" x2="195.60" y2="378.15" stroke="#231f20" stroke-width="0.9"/>
<text x="190.40" y="380.95" font-size="8.0" text-anchor="end" stroke="#231f20" stroke-width="0.2" textLength="15.10" lengthAdjust="spacingAndGlyphs">0.75</text>
<line x1="193.80" y1="372.84" x2="195.60" y2="372.84" stroke="#231f20" stroke-width="0.8"/>
<line x1="193.80" y1="367.53" x2="195.60" y2="367.53" stroke="#231f20" stroke-width="0.8"/>
<line x1="193.80" y1="362.22" x2="195.60" y2="362.22" stroke="#231f20" stroke-width="0.8"/>
<line x1="193.80" y1="356.91" x2="195.60" y2="356.91" stroke="#231f20" stroke-width="0.8"/>
<line x1="192.20" y1="351.60" x2="195.60" y2="351.60" stroke="#231f20" stroke-width="0.9"/>
<text x="190.40" y="354.40" font-size="8.0" text-anchor="end" stroke="#231f20" stroke-width="0.2" textLength="15.10" lengthAdjust="spacingAndGlyphs">1.00</text>
<line x1="193.80" y1="346.29" x2="195.60" y2="346.29" stroke="#231f20" stroke-width="0.8"/>
<line x1="193.80" y1="340.98" x2="195.60" y2="340.98" stroke="#231f20" stroke-width="0.8"/>
<line x1="193.80" y1="335.67" x2="195.60" y2="335.67" stroke="#231f20" stroke-width="0.8"/>
<line x1="193.80" y1="330.36" x2="195.60" y2="330.36" stroke="#231f20" stroke-width="0.8"/>
<line x1="192.20" y1="325.05" x2="195.60" y2="325.05" stroke="#231f20" stroke-width="0.9"/>
<text x="190.40" y="327.85" font-size="8.0" text-anchor="end" stroke="#231f20" stroke-width="0.2" textLength="15.10" lengthAdjust="spacingAndGlyphs">1.25</text>
<line x1="193.80" y1="319.74" x2="195.60" y2="319.74" stroke="#231f20" stroke-width="0.8"/>
<line x1="193.80" y1="314.43" x2="195.60" y2="314.43" stroke="#231f20" stroke-width="0.8"/>
<line x1="193.80" y1="309.12" x2="195.60" y2="309.12" stroke="#231f20" stroke-width="0.8"/>
<line x1="193.80" y1="303.81" x2="195.60" y2="303.81" stroke="#231f20" stroke-width="0.8"/>
<line x1="192.20" y1="298.50" x2="195.60" y2="298.50" stroke="#231f20" stroke-width="0.9"/>
<text x="190.40" y="301.30" font-size="8.0" text-anchor="end" stroke="#231f20" stroke-width="0.2" textLength="15.10" lengthAdjust="spacingAndGlyphs">1.50</text>
<line x1="193.80" y1="293.19" x2="195.60" y2="293.19" stroke="#231f20" stroke-width="0.8"/>
<line x1="193.80" y1="287.88" x2="195.60" y2="287.88" stroke="#231f20" stroke-width="0.8"/>
<line x1="193.80" y1="282.57" x2="195.60" y2="282.57" stroke="#231f20" stroke-width="0.8"/>
<line x1="193.80" y1="277.26" x2="195.60" y2="277.26" stroke="#231f20" stroke-width="0.8"/>
<line x1="197.80" y1="460.70" x2="197.80" y2="463.60" stroke="#231f20" stroke-width="0.8"/>
<line x1="204.75" y1="460.70" x2="204.75" y2="463.60" stroke="#231f20" stroke-width="0.8"/>
<line x1="211.70" y1="460.70" x2="211.70" y2="463.60" stroke="#231f20" stroke-width="0.8"/>
<text x="211.70" y="473.30" font-size="7.6" text-anchor="middle" stroke="#231f20" stroke-width="0.2" textLength="16.90" lengthAdjust="spacingAndGlyphs">1600</text>
<line x1="218.65" y1="460.70" x2="218.65" y2="463.60" stroke="#231f20" stroke-width="0.8"/>
<line x1="225.60" y1="460.70" x2="225.60" y2="463.60" stroke="#231f20" stroke-width="0.8"/>
<line x1="232.54" y1="460.70" x2="232.54" y2="463.60" stroke="#231f20" stroke-width="0.8"/>
<line x1="239.49" y1="460.70" x2="239.49" y2="463.60" stroke="#231f20" stroke-width="0.8"/>
<line x1="246.44" y1="460.70" x2="246.44" y2="463.60" stroke="#231f20" stroke-width="0.8"/>
<text x="246.44" y="473.30" font-size="7.6" text-anchor="middle" stroke="#231f20" stroke-width="0.2" textLength="16.90" lengthAdjust="spacingAndGlyphs">1700</text>
<line x1="253.39" y1="460.70" x2="253.39" y2="463.60" stroke="#231f20" stroke-width="0.8"/>
<line x1="260.34" y1="460.70" x2="260.34" y2="463.60" stroke="#231f20" stroke-width="0.8"/>
<line x1="267.28" y1="460.70" x2="267.28" y2="463.60" stroke="#231f20" stroke-width="0.8"/>
<line x1="274.23" y1="460.70" x2="274.23" y2="463.60" stroke="#231f20" stroke-width="0.8"/>
<line x1="281.18" y1="460.70" x2="281.18" y2="463.60" stroke="#231f20" stroke-width="0.8"/>
<text x="281.18" y="473.30" font-size="7.6" text-anchor="middle" stroke="#231f20" stroke-width="0.2" textLength="16.90" lengthAdjust="spacingAndGlyphs">1800</text>
<line x1="288.13" y1="460.70" x2="288.13" y2="463.60" stroke="#231f20" stroke-width="0.8"/>
<line x1="295.08" y1="460.70" x2="295.08" y2="463.60" stroke="#231f20" stroke-width="0.8"/>
<line x1="302.02" y1="460.70" x2="302.02" y2="463.60" stroke="#231f20" stroke-width="0.8"/>
<line x1="308.97" y1="460.70" x2="308.97" y2="463.60" stroke="#231f20" stroke-width="0.8"/>
<line x1="315.92" y1="460.70" x2="315.92" y2="463.60" stroke="#231f20" stroke-width="0.8"/>
<text x="315.92" y="473.30" font-size="7.6" text-anchor="middle" stroke="#231f20" stroke-width="0.2" textLength="16.90" lengthAdjust="spacingAndGlyphs">1900</text>
<line x1="322.87" y1="460.70" x2="322.87" y2="463.60" stroke="#231f20" stroke-width="0.8"/>
<line x1="329.82" y1="460.70" x2="329.82" y2="463.60" stroke="#231f20" stroke-width="0.8"/>
<line x1="336.76" y1="460.70" x2="336.76" y2="463.60" stroke="#231f20" stroke-width="0.8"/>
<line x1="343.71" y1="460.70" x2="343.71" y2="463.60" stroke="#231f20" stroke-width="0.8"/>
<line x1="350.66" y1="460.70" x2="350.66" y2="463.60" stroke="#231f20" stroke-width="0.8"/>
<text x="350.66" y="473.30" font-size="7.6" text-anchor="middle" stroke="#231f20" stroke-width="0.2" textLength="16.90" lengthAdjust="spacingAndGlyphs">2000</text>
<line x1="357.61" y1="460.70" x2="357.61" y2="463.60" stroke="#231f20" stroke-width="0.8"/>
<line x1="364.56" y1="460.70" x2="364.56" y2="463.60" stroke="#231f20" stroke-width="0.8"/>
<line x1="371.50" y1="460.70" x2="371.50" y2="463.60" stroke="#231f20" stroke-width="0.8"/>
<line x1="378.45" y1="460.70" x2="378.45" y2="463.60" stroke="#231f20" stroke-width="0.8"/>
<line x1="385.40" y1="460.70" x2="385.40" y2="463.60" stroke="#231f20" stroke-width="0.8"/>
<text x="385.40" y="473.30" font-size="7.6" text-anchor="middle" stroke="#231f20" stroke-width="0.2" textLength="16.90" lengthAdjust="spacingAndGlyphs">2100</text>
<line x1="392.35" y1="460.70" x2="392.35" y2="463.60" stroke="#231f20" stroke-width="0.8"/>
<line x1="399.30" y1="460.70" x2="399.30" y2="463.60" stroke="#231f20" stroke-width="0.8"/>
<line x1="406.24" y1="460.70" x2="406.24" y2="463.60" stroke="#231f20" stroke-width="0.8"/>
<line x1="413.19" y1="460.70" x2="413.19" y2="463.60" stroke="#231f20" stroke-width="0.8"/>
<line x1="420.14" y1="460.70" x2="420.14" y2="463.60" stroke="#231f20" stroke-width="0.8"/>
<text x="420.14" y="473.30" font-size="7.6" text-anchor="middle" stroke="#231f20" stroke-width="0.2" textLength="16.90" lengthAdjust="spacingAndGlyphs">2200</text>
<line x1="427.09" y1="460.70" x2="427.09" y2="463.60" stroke="#231f20" stroke-width="0.8"/>
<line x1="434.04" y1="460.70" x2="434.04" y2="463.60" stroke="#231f20" stroke-width="0.8"/>
<line x1="440.98" y1="460.70" x2="440.98" y2="463.60" stroke="#231f20" stroke-width="0.8"/>
<line x1="447.93" y1="460.70" x2="447.93" y2="463.60" stroke="#231f20" stroke-width="0.8"/>
<line x1="454.88" y1="460.70" x2="454.88" y2="463.60" stroke="#231f20" stroke-width="0.8"/>
<text x="454.88" y="473.30" font-size="7.6" text-anchor="middle" stroke="#231f20" stroke-width="0.2" textLength="16.90" lengthAdjust="spacingAndGlyphs">2300</text>
<line x1="461.83" y1="460.70" x2="461.83" y2="463.60" stroke="#231f20" stroke-width="0.8"/>
<line x1="468.78" y1="460.70" x2="468.78" y2="463.60" stroke="#231f20" stroke-width="0.8"/>
<line x1="475.72" y1="460.70" x2="475.72" y2="463.60" stroke="#231f20" stroke-width="0.8"/>
<line x1="482.67" y1="460.70" x2="482.67" y2="463.60" stroke="#231f20" stroke-width="0.8"/>
<line x1="489.62" y1="460.70" x2="489.62" y2="463.60" stroke="#231f20" stroke-width="0.8"/>
<text x="489.62" y="473.30" font-size="7.6" text-anchor="middle" stroke="#231f20" stroke-width="0.2" textLength="16.90" lengthAdjust="spacingAndGlyphs">2400</text>
<line x1="496.57" y1="460.70" x2="496.57" y2="463.60" stroke="#231f20" stroke-width="0.8"/>
<line x1="503.52" y1="460.70" x2="503.52" y2="463.60" stroke="#231f20" stroke-width="0.8"/>
<line x1="510.46" y1="460.70" x2="510.46" y2="463.60" stroke="#231f20" stroke-width="0.8"/>
<text x="172.30" y="280.20" font-size="7.6" stroke="#231f20" stroke-width="0.2" textLength="18.00" lengthAdjust="spacingAndGlyphs">&#215;10<tspan font-size="6.2" baseline-shift="3.4">4</tspan></text>
<text x="166.30" y="318.00" font-size="8.8" stroke="#231f20" stroke-width="0.2" textLength="41.50" lengthAdjust="spacingAndGlyphs" transform="rotate(-90 166.30 318.00)">Intens. [a.u.]</text>
<text x="497.90" y="483.40" font-size="7.8" stroke="#231f20" stroke-width="0.2" textLength="11.70" lengthAdjust="spacingAndGlyphs">m/z</text>
<text x="505.70" y="285.60" font-size="7.6" text-anchor="end" font-weight="bold" fill="#5b2a86">NT</text>
<text x="505.70" y="299.20" font-size="7.6" text-anchor="end" font-weight="bold" fill="#c8102e">&#916;DPM2</text>
<path d="M195.55,458.00 L203.38,458.00 L204.68,452.40 L205.98,458.00 L207.23,458.00 L208.23,456.80 L209.23,458.00 L210.70,458.00 L211.70,457.00 L212.70,458.00 L217.66,458.00 L218.86,456.80 L220.06,458.00 L231.83,458.00 L233.13,453.40 L234.43,458.00 L245.63,458.00 L247.13,452.00 L248.63,458.00 L260.38,458.00 L261.38,457.00 L262.38,458.00 L274.15,458.00 L275.55,454.00 L276.95,458.00 L283.31,458.00 L284.31,457.20 L285.31,458.00 L292.25,458.00 L293.20,419.87 L293.65,417.00 L294.10,419.87 L295.05,458.00 L297.35,458.00 L298.55,456.50 L299.75,458.00 L302.73,458.00 L303.93,454.80 L305.13,458.00 L316.80,458.00 L318.00,456.40 L319.20,458.00 L362.96,458.00 L364.56,441.00 L366.16,458.00 L373.98,458.00 L374.98,457.40 L375.98,458.00 L387.67,458.00 L388.87,456.60 L390.07,458.00 L434.03,458.00 L435.43,455.60 L436.83,458.00 L458.34,458.00 L459.74,456.40 L461.14,458.00 L511.51,458.00" fill="none" stroke="#c8102e" stroke-width="1.3" stroke-linejoin="round"/>
<path d="M195.55,419.40 L203.48,419.40 L204.68,409.90 L205.88,419.40 L207.23,419.40 L208.23,417.40 L209.23,419.40 L210.70,419.40 L211.70,417.90 L212.70,419.40 L213.83,419.40 L214.83,418.10 L215.83,419.40 L217.66,419.40 L218.86,416.90 L220.06,419.40 L224.94,419.40 L225.94,418.10 L226.94,419.40 L231.93,419.40 L233.13,413.10 L234.33,419.40 L245.73,419.40 L247.13,414.20 L248.53,419.40 L260.38,419.40 L261.38,418.20 L262.38,419.40 L272.88,419.40 L273.88,416.20 L274.88,419.40 L274.35,419.40 L275.55,412.90 L276.75,419.40 L278.10,419.40 L279.10,417.00 L280.10,419.40 L283.11,419.40 L284.31,414.20 L285.51,419.40 L292.15,419.40 L293.20,297.57 L293.65,288.40 L294.10,297.57 L295.15,419.40 L297.45,419.40 L298.55,415.20 L299.65,419.40 L302.73,419.40 L303.93,413.20 L305.13,419.40 L306.58,419.40 L307.58,418.20 L308.58,419.40 L316.80,419.40 L318.00,414.80 L319.20,419.40 L337.85,419.40 L338.85,417.90 L339.85,419.40 L343.90,419.40 L345.10,416.60 L346.30,419.40 L348.97,419.40 L349.97,417.80 L350.97,419.40 L359.19,419.40 L360.39,416.60 L361.59,419.40 L362.96,419.40 L364.11,366.39 L364.56,362.40 L365.01,366.39 L366.16,419.40 L368.67,419.40 L369.77,416.40 L370.87,419.40 L373.98,419.40 L374.98,417.60 L375.98,419.40 L387.67,419.40 L388.87,416.60 L390.07,419.40 L415.37,419.40 L416.67,416.60 L417.97,419.40 L430.26,419.40 L431.26,418.00 L432.26,419.40 L434.09,419.40 L435.39,412.80 L436.69,419.40 L458.54,419.40 L459.74,417.00 L460.94,419.40 L486.86,419.40 L488.06,415.60 L489.26,419.40 L505.30,419.40 L506.30,417.80 L507.30,419.40 L511.51,419.40" fill="none" stroke="#4f2278" stroke-width="1.3" stroke-linejoin="round"/>
<text x="206.50" y="410.80" font-size="7.3" fill="#333333" stroke="#333333" stroke-width="0.2" textLength="25.40" lengthAdjust="spacingAndGlyphs">1620.646</text>
<line x1="206.50" y1="411.90" x2="231.90" y2="411.90" stroke="#444" stroke-width="0.6"/>
<line x1="219.20" y1="411.90" x2="219.20" y2="417.00" stroke="#888" stroke-width="0.5"/>
<text x="221.50" y="403.00" font-size="7.3" fill="#333333" stroke="#333333" stroke-width="0.2" textLength="26.50" lengthAdjust="spacingAndGlyphs">1661.696</text>
<line x1="221.50" y1="404.10" x2="248.00" y2="404.10" stroke="#444" stroke-width="0.6"/>
<line x1="233.20" y1="404.10" x2="233.20" y2="413.00" stroke="#888" stroke-width="0.5"/>
<text x="262.60" y="408.30" font-size="7.3" fill="#333333" stroke="#333333" stroke-width="0.2" textLength="25.90" lengthAdjust="spacingAndGlyphs">1783.807</text>
<line x1="262.60" y1="409.40" x2="288.50" y2="409.40" stroke="#444" stroke-width="0.6"/>
<line x1="275.60" y1="409.40" x2="275.60" y2="413.00" stroke="#888" stroke-width="0.5"/>
<text x="280.40" y="285.40" font-size="7.3" fill="#333333" stroke="#333333" stroke-width="0.2" textLength="26.10" lengthAdjust="spacingAndGlyphs">1835.877</text>
<line x1="280.40" y1="286.50" x2="306.50" y2="286.50" stroke="#444" stroke-width="0.6"/>
<text x="304.80" y="410.50" font-size="7.3" fill="#333333" stroke="#333333" stroke-width="0.2" textLength="26.40" lengthAdjust="spacingAndGlyphs">1905.927</text>
<line x1="304.80" y1="411.60" x2="331.20" y2="411.60" stroke="#444" stroke-width="0.6"/>
<line x1="318.20" y1="411.60" x2="318.20" y2="415.00" stroke="#888" stroke-width="0.5"/>
<text x="335.20" y="412.20" font-size="7.3" fill="#333333" stroke="#333333" stroke-width="0.2" textLength="26.10" lengthAdjust="spacingAndGlyphs">1984.011</text>
<line x1="335.20" y1="413.30" x2="361.30" y2="413.30" stroke="#444" stroke-width="0.6"/>
<line x1="345.00" y1="413.30" x2="345.00" y2="416.50" stroke="#888" stroke-width="0.5"/>
<text x="352.20" y="356.70" font-size="7.3" fill="#333333" stroke="#333333" stroke-width="0.2" textLength="26.10" lengthAdjust="spacingAndGlyphs">2040.049</text>
<line x1="352.20" y1="357.80" x2="378.30" y2="357.80" stroke="#444" stroke-width="0.6"/>
<text x="375.60" y="412.20" font-size="7.3" fill="#333333" stroke="#333333" stroke-width="0.2" textLength="26.90" lengthAdjust="spacingAndGlyphs">2110.040</text>
<line x1="375.60" y1="413.30" x2="402.50" y2="413.30" stroke="#444" stroke-width="0.6"/>
<line x1="389.00" y1="413.30" x2="389.00" y2="416.50" stroke="#888" stroke-width="0.5"/>
<text x="420.00" y="408.80" font-size="7.3" fill="#333333" stroke="#333333" stroke-width="0.2" textLength="26.60" lengthAdjust="spacingAndGlyphs">2243.952</text>
<line x1="420.00" y1="409.90" x2="446.60" y2="409.90" stroke="#444" stroke-width="0.6"/>
<line x1="435.30" y1="409.90" x2="435.30" y2="412.80" stroke="#888" stroke-width="0.5"/>
<text x="449.20" y="413.50" font-size="7.3" fill="#333333" stroke="#333333" stroke-width="0.2" textLength="26.20" lengthAdjust="spacingAndGlyphs">2313.786</text>
<line x1="449.20" y1="414.60" x2="475.40" y2="414.60" stroke="#444" stroke-width="0.6"/>
<line x1="459.50" y1="414.60" x2="459.50" y2="417.00" stroke="#888" stroke-width="0.5"/>
<text x="480.20" y="411.00" font-size="7.3" fill="#333333" stroke="#333333" stroke-width="0.2" textLength="26.10" lengthAdjust="spacingAndGlyphs">2395.558</text>
<line x1="480.20" y1="412.10" x2="506.30" y2="412.10" stroke="#444" stroke-width="0.6"/>
<line x1="487.80" y1="412.10" x2="487.80" y2="415.60" stroke="#888" stroke-width="0.5"/>
<line x1="203.30" y1="405.40" x2="206.70" y2="405.40" stroke="#333" stroke-width="0.8"/>
<line x1="205.00" y1="405.00" x2="205.00" y2="388.00" stroke="#333" stroke-width="0.85"/>
<rect x="203.28" y="397.38" width="3.45" height="3.45" fill="#14508a"/>
<rect x="203.28" y="391.47" width="3.45" height="3.45" fill="#14508a"/>
<line x1="205.00" y1="387.40" x2="201.80" y2="380.70" stroke="#333" stroke-width="0.85"/>
<circle cx="201.80" cy="380.70" r="1.95" fill="#2db84a" stroke="none" stroke-width="0"/>
<line x1="205.00" y1="387.40" x2="208.00" y2="380.70" stroke="#333" stroke-width="0.85"/>
<line x1="208.00" y1="380.70" x2="205.10" y2="374.50" stroke="#333" stroke-width="0.85"/>
<circle cx="205.10" cy="374.50" r="1.95" fill="#2db84a" stroke="none" stroke-width="0"/>
<line x1="208.00" y1="380.70" x2="211.50" y2="374.50" stroke="#333" stroke-width="0.85"/>
<circle cx="211.50" cy="374.50" r="1.95" fill="#2db84a" stroke="none" stroke-width="0"/>
<circle cx="208.00" cy="380.70" r="1.95" fill="#2db84a" stroke="none" stroke-width="0"/>
<circle cx="205.00" cy="387.40" r="1.95" fill="#2db84a" stroke="none" stroke-width="0"/>
<line x1="266.50" y1="395.80" x2="269.90" y2="395.80" stroke="#333" stroke-width="0.8"/>
<line x1="268.20" y1="395.40" x2="268.20" y2="378.40" stroke="#333" stroke-width="0.85"/>
<rect x="266.47" y="387.77" width="3.45" height="3.45" fill="#14508a"/>
<rect x="266.47" y="381.87" width="3.45" height="3.45" fill="#14508a"/>
<line x1="268.20" y1="377.80" x2="263.90" y2="370.90" stroke="#333" stroke-width="0.85"/>
<line x1="263.90" y1="370.90" x2="263.90" y2="364.50" stroke="#333" stroke-width="0.85"/>
<circle cx="263.90" cy="364.50" r="1.95" fill="#2db84a" stroke="none" stroke-width="0"/>
<circle cx="263.90" cy="370.90" r="1.95" fill="#2db84a" stroke="none" stroke-width="0"/>
<line x1="268.20" y1="377.80" x2="273.00" y2="370.90" stroke="#333" stroke-width="0.85"/>
<line x1="273.00" y1="370.90" x2="269.80" y2="364.50" stroke="#333" stroke-width="0.85"/>
<circle cx="269.80" cy="364.50" r="1.95" fill="#2db84a" stroke="none" stroke-width="0"/>
<line x1="273.00" y1="370.90" x2="275.90" y2="364.50" stroke="#333" stroke-width="0.85"/>
<circle cx="275.90" cy="364.50" r="1.95" fill="#2db84a" stroke="none" stroke-width="0"/>
<circle cx="273.00" cy="370.90" r="1.95" fill="#2db84a" stroke="none" stroke-width="0"/>
<circle cx="268.20" cy="377.80" r="1.95" fill="#2db84a" stroke="none" stroke-width="0"/>
<line x1="230.50" y1="397.40" x2="233.90" y2="397.40" stroke="#333" stroke-width="0.8"/>
<line x1="232.20" y1="397.00" x2="232.20" y2="380.00" stroke="#333" stroke-width="0.85"/>
<rect x="230.47" y="389.38" width="3.45" height="3.45" fill="#14508a"/>
<rect x="230.47" y="383.47" width="3.45" height="3.45" fill="#14508a"/>
<line x1="232.20" y1="379.40" x2="228.90" y2="373.40" stroke="#333" stroke-width="0.85"/>
<line x1="232.20" y1="379.40" x2="235.50" y2="373.40" stroke="#333" stroke-width="0.85"/>
<circle cx="228.90" cy="373.40" r="1.95" fill="#2db84a" stroke="none" stroke-width="0"/>
<circle cx="235.50" cy="373.40" r="1.95" fill="#2db84a" stroke="none" stroke-width="0"/>
<circle cx="232.20" cy="379.40" r="1.95" fill="#2db84a" stroke="none" stroke-width="0"/>
<line x1="227.00" y1="369.20" x2="237.40" y2="369.20" stroke="#333" stroke-width="0.7"/>
<line x1="229.20" y1="363.10" x2="229.20" y2="368.40" stroke="#333" stroke-width="0.7"/>
<rect x="227.47" y="361.38" width="3.45" height="3.45" fill="#14508a"/>
<line x1="235.60" y1="363.10" x2="235.60" y2="368.40" stroke="#333" stroke-width="0.7"/>
<rect x="233.95" y="361.45" width="3.3" height="3.3" fill="#fff" stroke="#333" stroke-width="0.6"/>
<line x1="304.60" y1="330.10" x2="308.00" y2="330.10" stroke="#333" stroke-width="0.8"/>
<line x1="306.30" y1="329.70" x2="306.30" y2="312.70" stroke="#333" stroke-width="0.85"/>
<rect x="304.57" y="322.07" width="3.45" height="3.45" fill="#14508a"/>
<rect x="304.57" y="316.17" width="3.45" height="3.45" fill="#14508a"/>
<line x1="306.30" y1="312.10" x2="303.10" y2="306.10" stroke="#333" stroke-width="0.85"/>
<line x1="306.30" y1="312.10" x2="309.50" y2="306.10" stroke="#333" stroke-width="0.85"/>
<circle cx="303.10" cy="306.10" r="1.95" fill="#2db84a" stroke="none" stroke-width="0"/>
<circle cx="309.50" cy="306.10" r="1.95" fill="#2db84a" stroke="none" stroke-width="0"/>
<circle cx="306.30" cy="312.10" r="1.95" fill="#2db84a" stroke="none" stroke-width="0"/>
<line x1="301.10" y1="301.50" x2="311.50" y2="301.50" stroke="#333" stroke-width="0.7"/>
<line x1="300.20" y1="295.00" x2="300.20" y2="300.70" stroke="#333" stroke-width="0.7"/>
<rect x="298.55" y="293.35" width="3.3" height="3.3" fill="#fff" stroke="#333" stroke-width="0.6"/>
<line x1="306.50" y1="295.00" x2="306.50" y2="300.70" stroke="#333" stroke-width="0.7"/>
<rect x="304.77" y="293.27" width="3.45" height="3.45" fill="#14508a"/>
<line x1="312.70" y1="295.00" x2="312.70" y2="300.70" stroke="#333" stroke-width="0.7"/>
<polygon points="310.75,293.35 314.65,293.35 312.70,296.95" fill="#d4112f"/>
<line x1="361.10" y1="345.80" x2="364.50" y2="345.80" stroke="#333" stroke-width="0.8"/>
<line x1="362.80" y1="345.40" x2="362.80" y2="328.40" stroke="#333" stroke-width="0.85"/>
<rect x="361.07" y="337.77" width="3.45" height="3.45" fill="#14508a"/>
<rect x="361.07" y="331.87" width="3.45" height="3.45" fill="#14508a"/>
<line x1="362.80" y1="327.80" x2="359.60" y2="321.80" stroke="#333" stroke-width="0.85"/>
<line x1="362.80" y1="327.80" x2="366.00" y2="321.80" stroke="#333" stroke-width="0.85"/>
<circle cx="359.60" cy="321.80" r="1.95" fill="#2db84a" stroke="none" stroke-width="0"/>
<circle cx="366.00" cy="321.80" r="1.95" fill="#2db84a" stroke="none" stroke-width="0"/>
<circle cx="362.80" cy="327.80" r="1.95" fill="#2db84a" stroke="none" stroke-width="0"/>
<line x1="357.80" y1="317.30" x2="367.80" y2="317.30" stroke="#333" stroke-width="0.7"/>
<line x1="353.50" y1="311.10" x2="353.50" y2="316.50" stroke="#333" stroke-width="0.7"/>
<rect x="351.85" y="309.45" width="3.3" height="3.3" fill="#fff" stroke="#333" stroke-width="0.6"/>
<line x1="359.60" y1="311.10" x2="359.60" y2="316.50" stroke="#333" stroke-width="0.7"/>
<circle cx="359.60" cy="311.10" r="1.60" fill="#fff" stroke="#333" stroke-width="0.6"/>
<line x1="366.00" y1="311.10" x2="366.00" y2="316.50" stroke="#333" stroke-width="0.7"/>
<polygon points="364.05,309.45 367.95,309.45 366.00,313.05" fill="#d4112f"/>
<line x1="372.10" y1="311.10" x2="372.10" y2="316.50" stroke="#333" stroke-width="0.7"/>
<rect x="370.38" y="309.38" width="3.45" height="3.45" fill="#14508a"/>
<line x1="431.10" y1="399.20" x2="434.50" y2="399.20" stroke="#333" stroke-width="0.8"/>
<line x1="432.80" y1="398.80" x2="432.80" y2="381.80" stroke="#333" stroke-width="0.85"/>
<rect x="431.07" y="391.18" width="3.45" height="3.45" fill="#14508a"/>
<rect x="431.07" y="385.27" width="3.45" height="3.45" fill="#14508a"/>
<line x1="432.80" y1="381.20" x2="429.50" y2="375.20" stroke="#333" stroke-width="0.85"/>
<line x1="432.80" y1="381.20" x2="436.10" y2="375.20" stroke="#333" stroke-width="0.85"/>
<circle cx="429.50" cy="375.20" r="1.95" fill="#2db84a" stroke="none" stroke-width="0"/>
<circle cx="436.10" cy="375.20" r="1.95" fill="#2db84a" stroke="none" stroke-width="0"/>
<circle cx="432.80" cy="381.20" r="1.95" fill="#2db84a" stroke="none" stroke-width="0"/>
<line x1="427.90" y1="370.40" x2="437.70" y2="370.40" stroke="#333" stroke-width="0.7"/>
<line x1="420.50" y1="365.00" x2="420.50" y2="369.60" stroke="#333" stroke-width="0.7"/>
<circle cx="420.50" cy="365.00" r="1.60" fill="#fff" stroke="#333" stroke-width="0.6"/>
<line x1="426.60" y1="365.00" x2="426.60" y2="369.60" stroke="#333" stroke-width="0.7"/>
<polygon points="424.65,363.35 428.55,363.35 426.60,366.95" fill="#d4112f"/>
<line x1="432.80" y1="365.00" x2="432.80" y2="369.60" stroke="#333" stroke-width="0.7"/>
<rect x="431.15" y="363.35" width="3.3" height="3.3" fill="#fff" stroke="#333" stroke-width="0.6"/>
<line x1="438.90" y1="365.00" x2="438.90" y2="369.60" stroke="#333" stroke-width="0.7"/>
<circle cx="438.90" cy="365.00" r="1.60" fill="#fff" stroke="#333" stroke-width="0.6"/>
<line x1="445.10" y1="365.00" x2="445.10" y2="369.60" stroke="#333" stroke-width="0.7"/>
<rect x="443.38" y="363.27" width="3.45" height="3.45" fill="#14508a"/>
<line x1="484.30" y1="401.90" x2="487.70" y2="401.90" stroke="#333" stroke-width="0.8"/>
<line x1="486.00" y1="401.50" x2="486.00" y2="384.50" stroke="#333" stroke-width="0.85"/>
<rect x="484.27" y="393.88" width="3.45" height="3.45" fill="#14508a"/>
<rect x="484.27" y="387.97" width="3.45" height="3.45" fill="#14508a"/>
<line x1="486.00" y1="383.90" x2="482.80" y2="377.90" stroke="#333" stroke-width="0.85"/>
<line x1="486.00" y1="383.90" x2="489.20" y2="377.90" stroke="#333" stroke-width="0.85"/>
<circle cx="482.80" cy="377.90" r="1.95" fill="#2db84a" stroke="none" stroke-width="0"/>
<circle cx="489.20" cy="377.90" r="1.95" fill="#2db84a" stroke="none" stroke-width="0"/>
<circle cx="486.00" cy="383.90" r="1.95" fill="#2db84a" stroke="none" stroke-width="0"/>
<line x1="481.10" y1="373.10" x2="490.90" y2="373.10" stroke="#333" stroke-width="0.7"/>
<line x1="473.70" y1="366.90" x2="473.70" y2="372.30" stroke="#333" stroke-width="0.7"/>
<rect x="471.97" y="365.17" width="3.45" height="3.45" fill="#14508a"/>
<line x1="479.80" y1="366.90" x2="479.80" y2="372.30" stroke="#333" stroke-width="0.7"/>
<rect x="478.07" y="365.17" width="3.45" height="3.45" fill="#14508a"/>
<line x1="486.00" y1="366.90" x2="486.00" y2="372.30" stroke="#333" stroke-width="0.7"/>
<rect x="484.27" y="365.17" width="3.45" height="3.45" fill="#14508a"/>
<line x1="492.10" y1="366.90" x2="492.10" y2="372.30" stroke="#333" stroke-width="0.7"/>
<rect x="490.45" y="365.25" width="3.3" height="3.3" fill="#fff" stroke="#333" stroke-width="0.6"/>
<line x1="498.20" y1="366.90" x2="498.20" y2="372.30" stroke="#333" stroke-width="0.7"/>
<rect x="496.55" y="365.25" width="3.3" height="3.3" fill="#fff" stroke="#333" stroke-width="0.6"/>
<text x="6.80" y="494.00" font-size="11.3" font-weight="bold" fill="#000" textLength="8.20" lengthAdjust="spacingAndGlyphs">G</text>
<line x1="72.50" y1="503.00" x2="72.50" y2="597.10" stroke="#111" stroke-width="1.2"/>
<line x1="71.90" y1="596.50" x2="210.20" y2="596.50" stroke="#111" stroke-width="1.2"/>
<line x1="69.40" y1="508.68" x2="72.30" y2="508.68" stroke="#231f20" stroke-width="0.9"/>
<text x="67.40" y="511.48" font-size="8.0" text-anchor="end" stroke="#231f20" stroke-width="0.2" textLength="29.66" lengthAdjust="spacingAndGlyphs">1000000</text>
<line x1="69.40" y1="530.61" x2="72.30" y2="530.61" stroke="#231f20" stroke-width="0.9"/>
<text x="67.40" y="533.41" font-size="8.0" text-anchor="end" stroke="#231f20" stroke-width="0.2" textLength="25.38" lengthAdjust="spacingAndGlyphs">100000</text>
<line x1="69.40" y1="552.54" x2="72.30" y2="552.54" stroke="#231f20" stroke-width="0.9"/>
<text x="67.40" y="555.34" font-size="8.0" text-anchor="end" stroke="#231f20" stroke-width="0.2" textLength="21.10" lengthAdjust="spacingAndGlyphs">10000</text>
<line x1="69.40" y1="574.47" x2="72.30" y2="574.47" stroke="#231f20" stroke-width="0.9"/>
<text x="67.40" y="577.27" font-size="8.0" text-anchor="end" stroke="#231f20" stroke-width="0.2" textLength="16.82" lengthAdjust="spacingAndGlyphs">1000</text>
<line x1="69.40" y1="596.40" x2="72.30" y2="596.40" stroke="#231f20" stroke-width="0.9"/>
<text x="67.40" y="599.20" font-size="8.0" text-anchor="end" stroke="#231f20" stroke-width="0.2" textLength="12.54" lengthAdjust="spacingAndGlyphs">100</text>
<line x1="72.30" y1="596.40" x2="72.30" y2="599.40" stroke="#231f20" stroke-width="0.9"/>
<text x="72.30" y="608.60" font-size="8.0" text-anchor="middle" stroke="#231f20" stroke-width="0.2" textLength="3.90" lengthAdjust="spacingAndGlyphs">0</text>
<line x1="105.30" y1="596.40" x2="105.30" y2="599.40" stroke="#231f20" stroke-width="0.9"/>
<text x="105.30" y="608.60" font-size="8.0" text-anchor="middle" stroke="#231f20" stroke-width="0.2" textLength="8.10" lengthAdjust="spacingAndGlyphs">24</text>
<line x1="138.30" y1="596.40" x2="138.30" y2="599.40" stroke="#231f20" stroke-width="0.9"/>
<text x="138.30" y="608.60" font-size="8.0" text-anchor="middle" stroke="#231f20" stroke-width="0.2" textLength="8.10" lengthAdjust="spacingAndGlyphs">48</text>
<line x1="171.30" y1="596.40" x2="171.30" y2="599.40" stroke="#231f20" stroke-width="0.9"/>
<text x="171.30" y="608.60" font-size="8.0" text-anchor="middle" stroke="#231f20" stroke-width="0.2" textLength="8.10" lengthAdjust="spacingAndGlyphs">72</text>
<line x1="204.30" y1="596.40" x2="204.30" y2="599.40" stroke="#231f20" stroke-width="0.9"/>
<text x="204.30" y="608.60" font-size="8.0" text-anchor="middle" stroke="#231f20" stroke-width="0.2" textLength="8.10" lengthAdjust="spacingAndGlyphs">96</text>
<text x="31.40" y="576.00" font-size="9.6" stroke="#231f20" stroke-width="0.2" textLength="52.50" lengthAdjust="spacingAndGlyphs" transform="rotate(-90 31.40 576.00)">Cell count [10<tspan font-size="6.2" baseline-shift="3.4">3</tspan>]</text>
<polyline points="72.30,586.20 105.30,580.00 138.30,572.30 171.30,557.60 204.30,541.30" fill="none" stroke="#c8102e" stroke-width="1.3" stroke-linejoin="round"/>
<circle cx="72.30" cy="586.20" r="1.90" fill="#c8102e" stroke="none" stroke-width="0"/>
<circle cx="105.30" cy="580.00" r="1.90" fill="#c8102e" stroke="none" stroke-width="0"/>
<circle cx="138.30" cy="572.30" r="1.90" fill="#c8102e" stroke="none" stroke-width="0"/>
<circle cx="171.30" cy="557.60" r="1.90" fill="#c8102e" stroke="none" stroke-width="0"/>
<circle cx="204.30" cy="541.30" r="1.90" fill="#c8102e" stroke="none" stroke-width="0"/>
<polyline points="72.30,586.20 105.30,571.70 138.30,555.80 171.30,539.60 204.30,523.30" fill="none" stroke="#1a5590" stroke-width="1.3" stroke-linejoin="round"/>
<polygon points="103.00,573.43 107.60,573.43 105.30,569.29" fill="#1a5590"/>
<polygon points="136.00,557.52 140.60,557.52 138.30,553.38" fill="#1a5590"/>
<polygon points="169.00,541.33 173.60,541.33 171.30,537.19" fill="#1a5590"/>
<polygon points="202.00,525.02 206.60,525.02 204.30,520.88" fill="#1a5590"/>
<circle cx="72.30" cy="586.20" r="1.90" fill="#c8102e" stroke="none" stroke-width="0"/>
<line x1="204.30" y1="538.80" x2="204.30" y2="543.60" stroke="#c8102e" stroke-width="0.9"/>
<path d="M166.03,500.07 L166.60,500.91 L167.57,501.20 L166.95,502.00 L166.98,503.01 L166.03,502.68 L165.07,503.01 L165.10,502.00 L164.48,501.20 L165.45,500.91Z" fill="#231f20"/>
<path d="M169.68,500.07 L170.25,500.91 L171.22,501.20 L170.60,502.00 L170.63,503.01 L169.68,502.68 L168.72,503.01 L168.75,502.00 L168.13,501.20 L169.10,500.91Z" fill="#231f20"/>
<path d="M173.33,500.07 L173.90,500.91 L174.87,501.20 L174.25,502.00 L174.28,503.01 L173.33,502.68 L172.37,503.01 L172.40,502.00 L171.78,501.20 L172.75,500.91Z" fill="#231f20"/>
<path d="M176.97,500.07 L177.55,500.91 L178.52,501.20 L177.90,502.00 L177.93,503.01 L176.97,502.68 L176.02,503.01 L176.05,502.00 L175.43,501.20 L176.40,500.91Z" fill="#231f20"/>
<path d="M199.12,500.07 L199.70,500.91 L200.67,501.20 L200.05,502.00 L200.08,503.01 L199.12,502.68 L198.17,503.01 L198.20,502.00 L197.58,501.20 L198.55,500.91Z" fill="#231f20"/>
<path d="M202.78,500.07 L203.35,500.91 L204.32,501.20 L203.70,502.00 L203.73,503.01 L202.78,502.68 L201.82,503.01 L201.85,502.00 L201.23,501.20 L202.20,500.91Z" fill="#231f20"/>
<path d="M206.43,500.07 L207.00,500.91 L207.97,501.20 L207.35,502.00 L207.38,503.01 L206.43,502.68 L205.47,503.01 L205.50,502.00 L204.88,501.20 L205.85,500.91Z" fill="#231f20"/>
<path d="M210.07,500.07 L210.65,500.91 L211.62,501.20 L211.00,502.00 L211.03,503.01 L210.07,502.68 L209.12,503.01 L209.15,502.00 L208.53,501.20 L209.50,500.91Z" fill="#231f20"/>
<line x1="88.10" y1="509.80" x2="97.50" y2="509.80" stroke="#1a5590" stroke-width="1.2"/>
<polygon points="90.80,511.30 94.80,511.30 92.80,507.70" fill="#1a5590"/>
<line x1="88.10" y1="530.00" x2="97.50" y2="530.00" stroke="#c8102e" stroke-width="1.2"/>
<circle cx="92.80" cy="530.00" r="1.80" fill="#c8102e" stroke="none" stroke-width="0"/>
<text x="101.50" y="511.70" font-size="7.6" stroke="#231f20" stroke-width="0.2">CALR<tspan font-size="5.2" baseline-shift="3.4">&#916;52</tspan></text>
<text x="101.50" y="521.10" font-size="7.6" stroke="#231f20" stroke-width="0.2" textLength="35.00" lengthAdjust="spacingAndGlyphs"><tspan font-style="italic">Dpm2</tspan> sgR</text>
<text x="101.50" y="532.20" font-size="7.6" stroke="#231f20" stroke-width="0.2">CALR<tspan font-size="5.2" baseline-shift="3.4">&#916;52</tspan></text>
<text x="101.50" y="540.80" font-size="7.6" stroke="#231f20" stroke-width="0.2" textLength="33.70" lengthAdjust="spacingAndGlyphs"><tspan font-style="italic">Dpm2</tspan> WT</text>
<text x="288.30" y="493.70" font-size="11.3" font-weight="bold" fill="#000" textLength="7.80" lengthAdjust="spacingAndGlyphs">H</text>
<line x1="329.50" y1="499.00" x2="329.50" y2="597.10" stroke="#111" stroke-width="1.2"/>
<line x1="328.90" y1="596.50" x2="420.20" y2="596.50" stroke="#111" stroke-width="1.2"/>
<line x1="326.30" y1="502.75" x2="329.50" y2="502.75" stroke="#231f20" stroke-width="0.9"/>
<text x="324.00" y="505.35" font-size="7.4" text-anchor="end" stroke="#231f20" stroke-width="0.2" textLength="9.40" lengthAdjust="spacingAndGlyphs">1.5</text>
<line x1="326.30" y1="534.00" x2="329.50" y2="534.00" stroke="#231f20" stroke-width="0.9"/>
<text x="324.00" y="536.60" font-size="7.4" text-anchor="end" stroke="#231f20" stroke-width="0.2" textLength="9.40" lengthAdjust="spacingAndGlyphs">1.0</text>
<line x1="326.30" y1="565.25" x2="329.50" y2="565.25" stroke="#231f20" stroke-width="0.9"/>
<text x="324.00" y="567.85" font-size="7.4" text-anchor="end" stroke="#231f20" stroke-width="0.2" textLength="9.40" lengthAdjust="spacingAndGlyphs">0.5</text>
<line x1="326.30" y1="596.50" x2="329.50" y2="596.50" stroke="#231f20" stroke-width="0.9"/>
<text x="324.00" y="599.10" font-size="7.4" text-anchor="end" stroke="#231f20" stroke-width="0.2" textLength="9.40" lengthAdjust="spacingAndGlyphs">0.0</text>
<text x="305.30" y="589.40" font-size="8.4" stroke="#231f20" stroke-width="0.2" textLength="83.20" lengthAdjust="spacingAndGlyphs" transform="rotate(-90 305.30 589.40)">Normalized colony count</text>
<line x1="343.10" y1="534.00" x2="343.10" y2="532.75" stroke="#231f20" stroke-width="1.0"/>
<line x1="340.00" y1="532.75" x2="346.20" y2="532.75" stroke="#231f20" stroke-width="1.0"/>
<rect x="336.50" y="534.00" width="13.20" height="62.50" fill="#134e82"/>
<line x1="364.30" y1="543.38" x2="364.30" y2="532.75" stroke="#231f20" stroke-width="1.0"/>
<line x1="361.20" y1="532.75" x2="367.40" y2="532.75" stroke="#231f20" stroke-width="1.0"/>
<rect x="357.70" y="543.38" width="13.20" height="53.12" fill="#89a8c6"/>
<line x1="385.10" y1="530.25" x2="385.10" y2="524.62" stroke="#231f20" stroke-width="1.0"/>
<line x1="382.00" y1="524.62" x2="388.20" y2="524.62" stroke="#231f20" stroke-width="1.0"/>
<rect x="378.50" y="530.25" width="13.20" height="66.25" fill="#c8102e"/>
<line x1="406.20" y1="571.50" x2="406.20" y2="564.00" stroke="#231f20" stroke-width="1.0"/>
<line x1="403.10" y1="564.00" x2="409.30" y2="564.00" stroke="#231f20" stroke-width="1.0"/>
<rect x="399.60" y="571.50" width="13.20" height="25.00" fill="#e58798"/>
<line x1="385.00" y1="515.20" x2="406.70" y2="515.20" stroke="#231f20" stroke-width="1.0"/>
<line x1="385.00" y1="513.00" x2="385.00" y2="517.40" stroke="#231f20" stroke-width="1.0"/>
<line x1="406.70" y1="513.00" x2="406.70" y2="517.40" stroke="#231f20" stroke-width="1.0"/>
<path d="M392.20,509.88 L392.77,510.71 L393.75,511.00 L393.13,511.80 L393.16,512.81 L392.20,512.48 L391.24,512.81 L391.27,511.80 L390.65,511.00 L391.63,510.71Z" fill="#231f20"/>
<path d="M395.85,509.88 L396.42,510.71 L397.40,511.00 L396.78,511.80 L396.81,512.81 L395.85,512.48 L394.89,512.81 L394.92,511.80 L394.30,511.00 L395.28,510.71Z" fill="#231f20"/>
<path d="M399.50,509.88 L400.07,510.71 L401.05,511.00 L400.43,511.80 L400.46,512.81 L399.50,512.48 L398.54,512.81 L398.57,511.80 L397.95,511.00 L398.93,510.71Z" fill="#231f20"/>
<rect x="427.50" y="519.00" width="5.20" height="5.40" fill="#134e82"/>
<text x="435.90" y="524.40" font-size="7.6" stroke="#231f20" stroke-width="0.2">WT<tspan font-size="5.3" baseline-shift="2.5">NTG</tspan></text>
<rect x="427.50" y="529.90" width="5.20" height="5.40" fill="#89a8c6"/>
<text x="435.90" y="535.30" font-size="7.6" stroke="#231f20" stroke-width="0.2">WT<tspan font-size="5.3" baseline-shift="2.5"><tspan font-style="italic">&#916;Dpm2</tspan></tspan></text>
<rect x="427.50" y="541.30" width="5.20" height="5.40" fill="#c8102e"/>
<text x="435.90" y="546.70" font-size="7.6" stroke="#231f20" stroke-width="0.2">CALR<tspan font-size="5.3" baseline-shift="2.5">NTG</tspan></text>
<rect x="427.50" y="551.70" width="5.20" height="5.40" fill="#e58798"/>
<text x="435.90" y="557.10" font-size="7.6" stroke="#231f20" stroke-width="0.2">CALR<tspan font-size="5.3" baseline-shift="2.5"><tspan font-style="italic">&#916;Dpm2</tspan></tspan></text>
<rect x="0" y="0" width="1.2" height="615" fill="#000"/><rect x="0" y="0" width="520" height="1.0" fill="#000"/><rect x="518.7" y="0" width="1.3" height="615" fill="#000"/><rect x="0" y="613.5" width="520" height="1.5" fill="#000"/>
</svg></body></html>
